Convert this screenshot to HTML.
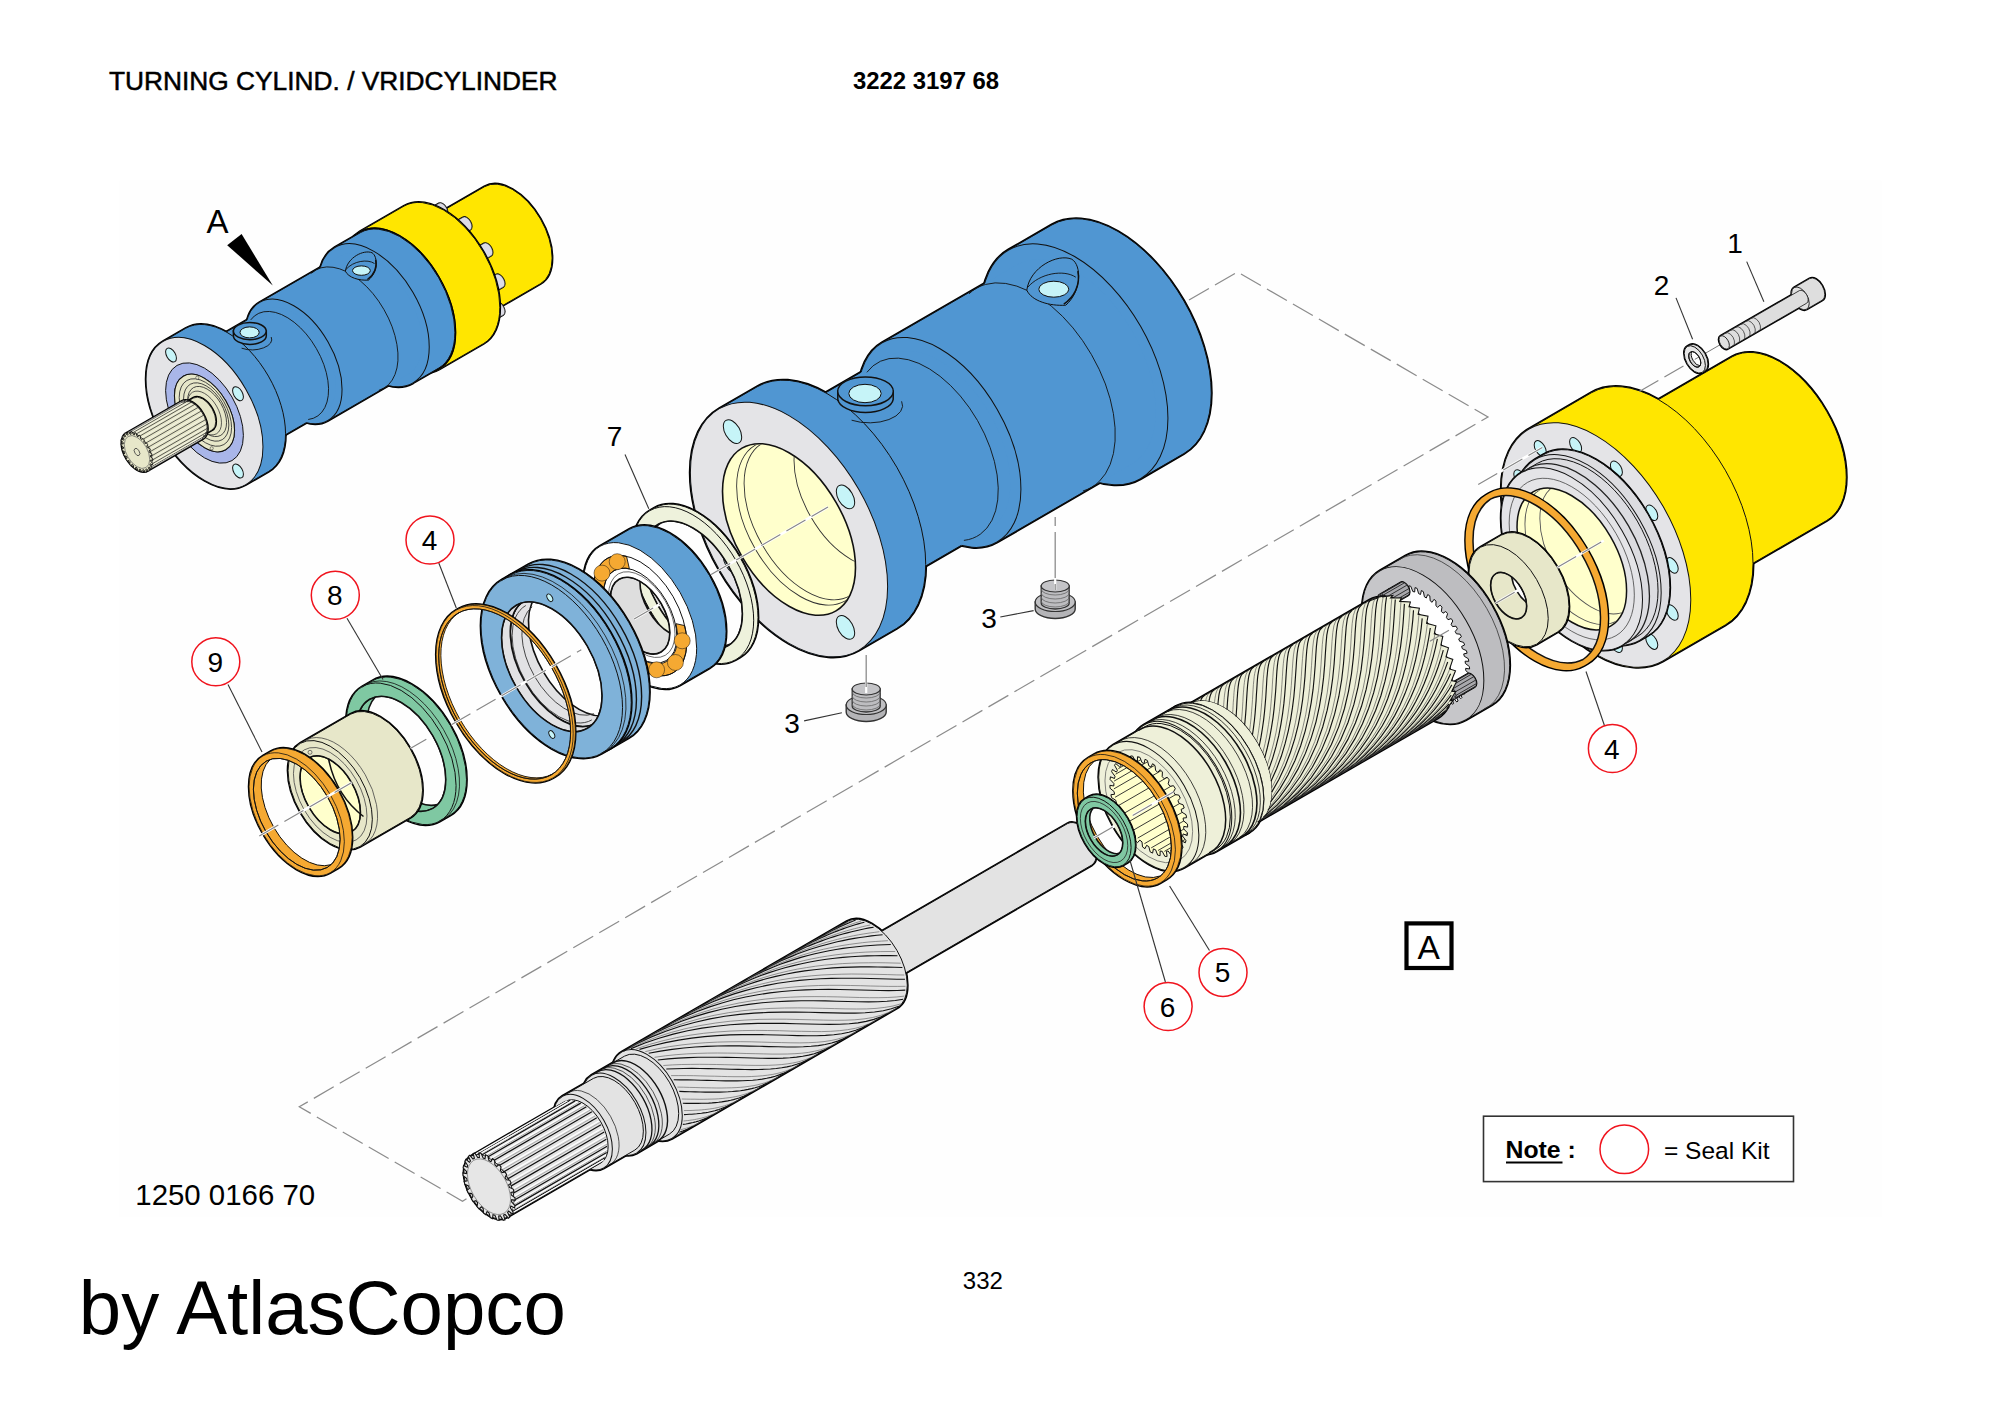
<!DOCTYPE html>
<html><head><meta charset="utf-8"><title>Turning cylinder</title>
<style>
html,body{margin:0;padding:0;background:#fff;}
body{width:2000px;height:1414px;overflow:hidden;position:relative;font-family:"Liberation Sans",sans-serif;}
svg{position:absolute;left:0;top:0;}
text{font-family:"Liberation Sans",sans-serif;fill:#000;}
</style></head><body>
<svg width="2000" height="1414" viewBox="0 0 2000 1414">
<defs><clipPath id="cl_sp"><ellipse cx="192.4" cy="420" rx="23" ry="13.3" transform="rotate(60 192.4 420)" fill="#000" stroke="none" stroke-width="0" /></clipPath></defs>
<rect x="0" y="0" width="2000" height="1414" fill="#fff"/>
<rect x="119.5" y="180.5" width="1762" height="1036.5" fill="#fefefe"/>
<path d="M1189 300L1237.6 272L1488 417L299.3 1106.8L462.5 1201.2L468.5 1197.5" fill="none" stroke="#8c8c8c" stroke-width="1.25" stroke-dasharray="23 7"/>
<path d="M471.7 323.4L540.5 283.7A56 32.3 60 0 0 540.5 219A56 32.3 60 0 0 484.5 186.7L415.7 226.4A56 32.3 60 0 0 415.7 291.1A56 32.3 60 0 0 471.7 323.4Z" fill="none" stroke="#000" stroke-width="2.6" stroke-linejoin="round"/>
<path d="M471.7 323.4L540.5 283.7A56 32.3 60 0 0 540.5 219A56 32.3 60 0 0 484.5 186.7L415.7 226.4A56 32.3 60 0 0 415.7 291.1A56 32.3 60 0 0 471.7 323.4Z" fill="#ffe600" stroke="none" stroke-width="0" />
<path d="M471.7 323.4L540.5 283.7M415.7 226.4L484.5 186.7M540.5 283.7A56 32.3 60 0 0 540.5 219A56 32.3 60 0 0 484.5 186.7" fill="none" stroke="#111" stroke-width="1.0" />
<ellipse cx="443.7" cy="274.9" rx="56" ry="32.3" transform="rotate(60 443.7 274.9)" fill="#ffe600" stroke="#111" stroke-width="1.0" />
<path d="M480.3 338.3L491.1 332.1A7.1 4.1 60 0 0 491.1 323.8A7.1 4.1 60 0 0 484 319.7L473.2 326A7.1 4.1 60 0 0 473.2 334.2A7.1 4.1 60 0 0 480.3 338.3Z" fill="none" stroke="#000" stroke-width="1.8" stroke-linejoin="round"/>
<path d="M480.3 338.3L491.1 332.1A7.1 4.1 60 0 0 491.1 323.8A7.1 4.1 60 0 0 484 319.7L473.2 326A7.1 4.1 60 0 0 473.2 334.2A7.1 4.1 60 0 0 480.3 338.3Z" fill="#dcdce6" stroke="none" stroke-width="0" />
<path d="M480.3 338.3L491.1 332.1M473.2 326L484 319.7M491.1 332.1A7.1 4.1 60 0 0 491.1 323.8A7.1 4.1 60 0 0 484 319.7" fill="none" stroke="#555" stroke-width="0.5" />
<ellipse cx="476.8" cy="332.1" rx="7.1" ry="4.1" transform="rotate(60 476.8 332.1)" fill="#dcdce6" stroke="#555" stroke-width="0.5" />
<path d="M492.4 321.1L503.2 314.9A7.1 4.1 60 0 0 503.2 306.6A7.1 4.1 60 0 0 496.1 302.5L485.3 308.8A7.1 4.1 60 0 0 485.3 317A7.1 4.1 60 0 0 492.4 321.1Z" fill="none" stroke="#000" stroke-width="1.8" stroke-linejoin="round"/>
<path d="M492.4 321.1L503.2 314.9A7.1 4.1 60 0 0 503.2 306.6A7.1 4.1 60 0 0 496.1 302.5L485.3 308.8A7.1 4.1 60 0 0 485.3 317A7.1 4.1 60 0 0 492.4 321.1Z" fill="#dcdce6" stroke="none" stroke-width="0" />
<path d="M492.4 321.1L503.2 314.9M485.3 308.8L496.1 302.5M503.2 314.9A7.1 4.1 60 0 0 503.2 306.6A7.1 4.1 60 0 0 496.1 302.5" fill="none" stroke="#555" stroke-width="0.5" />
<ellipse cx="488.9" cy="314.9" rx="7.1" ry="4.1" transform="rotate(60 488.9 314.9)" fill="#dcdce6" stroke="#555" stroke-width="0.5" />
<path d="M492.4 293.1L503.2 286.9A7.1 4.1 60 0 0 503.2 278.7A7.1 4.1 60 0 0 496.1 274.6L485.3 280.8A7.1 4.1 60 0 0 485.3 289A7.1 4.1 60 0 0 492.4 293.1Z" fill="none" stroke="#000" stroke-width="1.8" stroke-linejoin="round"/>
<path d="M492.4 293.1L503.2 286.9A7.1 4.1 60 0 0 503.2 278.7A7.1 4.1 60 0 0 496.1 274.6L485.3 280.8A7.1 4.1 60 0 0 485.3 289A7.1 4.1 60 0 0 492.4 293.1Z" fill="#dcdce6" stroke="none" stroke-width="0" />
<path d="M492.4 293.1L503.2 286.9M485.3 280.8L496.1 274.6M503.2 286.9A7.1 4.1 60 0 0 503.2 278.7A7.1 4.1 60 0 0 496.1 274.6" fill="none" stroke="#555" stroke-width="0.5" />
<ellipse cx="488.9" cy="287" rx="7.1" ry="4.1" transform="rotate(60 488.9 287)" fill="#dcdce6" stroke="#555" stroke-width="0.5" />
<path d="M480.3 262L491.1 255.7A7.1 4.1 60 0 0 491.1 247.5A7.1 4.1 60 0 0 484 243.4L473.2 249.6A7.1 4.1 60 0 0 473.2 257.9A7.1 4.1 60 0 0 480.3 262Z" fill="none" stroke="#000" stroke-width="1.8" stroke-linejoin="round"/>
<path d="M480.3 262L491.1 255.7A7.1 4.1 60 0 0 491.1 247.5A7.1 4.1 60 0 0 484 243.4L473.2 249.6A7.1 4.1 60 0 0 473.2 257.9A7.1 4.1 60 0 0 480.3 262Z" fill="#dcdce6" stroke="none" stroke-width="0" />
<path d="M480.3 262L491.1 255.7M473.2 249.6L484 243.4M491.1 255.7A7.1 4.1 60 0 0 491.1 247.5A7.1 4.1 60 0 0 484 243.4" fill="none" stroke="#555" stroke-width="0.5" />
<ellipse cx="476.8" cy="255.8" rx="7.1" ry="4.1" transform="rotate(60 476.8 255.8)" fill="#dcdce6" stroke="#555" stroke-width="0.5" />
<path d="M459.4 235.9L470.2 229.7A7.1 4.1 60 0 0 470.2 221.5A7.1 4.1 60 0 0 463 217.4L452.3 223.6A7.1 4.1 60 0 0 452.3 231.8A7.1 4.1 60 0 0 459.4 235.9Z" fill="none" stroke="#000" stroke-width="1.8" stroke-linejoin="round"/>
<path d="M459.4 235.9L470.2 229.7A7.1 4.1 60 0 0 470.2 221.5A7.1 4.1 60 0 0 463 217.4L452.3 223.6A7.1 4.1 60 0 0 452.3 231.8A7.1 4.1 60 0 0 459.4 235.9Z" fill="#dcdce6" stroke="none" stroke-width="0" />
<path d="M459.4 235.9L470.2 229.7M452.3 223.6L463 217.4M470.2 229.7A7.1 4.1 60 0 0 470.2 221.5A7.1 4.1 60 0 0 463 217.4" fill="none" stroke="#555" stroke-width="0.5" />
<ellipse cx="455.8" cy="229.7" rx="7.1" ry="4.1" transform="rotate(60 455.8 229.7)" fill="#dcdce6" stroke="#555" stroke-width="0.5" />
<path d="M435.2 221.9L446 215.7A7.1 4.1 60 0 0 446 207.5A7.1 4.1 60 0 0 438.9 203.4L428.1 209.6A7.1 4.1 60 0 0 428.1 217.8A7.1 4.1 60 0 0 435.2 221.9Z" fill="none" stroke="#000" stroke-width="1.8" stroke-linejoin="round"/>
<path d="M435.2 221.9L446 215.7A7.1 4.1 60 0 0 446 207.5A7.1 4.1 60 0 0 438.9 203.4L428.1 209.6A7.1 4.1 60 0 0 428.1 217.8A7.1 4.1 60 0 0 435.2 221.9Z" fill="#dcdce6" stroke="none" stroke-width="0" />
<path d="M435.2 221.9L446 215.7M428.1 209.6L438.9 203.4M446 215.7A7.1 4.1 60 0 0 446 207.5A7.1 4.1 60 0 0 438.9 203.4" fill="none" stroke="#555" stroke-width="0.5" />
<ellipse cx="431.6" cy="215.8" rx="7.1" ry="4.1" transform="rotate(60 431.6 215.8)" fill="#dcdce6" stroke="#555" stroke-width="0.5" />
<path d="M414.2 223.8L425 217.6A7.1 4.1 60 0 0 425 209.4A7.1 4.1 60 0 0 417.9 205.3L407.1 211.5A7.1 4.1 60 0 0 407.1 219.7A7.1 4.1 60 0 0 414.2 223.8Z" fill="none" stroke="#000" stroke-width="1.8" stroke-linejoin="round"/>
<path d="M414.2 223.8L425 217.6A7.1 4.1 60 0 0 425 209.4A7.1 4.1 60 0 0 417.9 205.3L407.1 211.5A7.1 4.1 60 0 0 407.1 219.7A7.1 4.1 60 0 0 414.2 223.8Z" fill="#dcdce6" stroke="none" stroke-width="0" />
<path d="M414.2 223.8L425 217.6M407.1 211.5L417.9 205.3M425 217.6A7.1 4.1 60 0 0 425 209.4A7.1 4.1 60 0 0 417.9 205.3" fill="none" stroke="#555" stroke-width="0.5" />
<ellipse cx="410.7" cy="217.6" rx="7.1" ry="4.1" transform="rotate(60 410.7 217.6)" fill="#dcdce6" stroke="#555" stroke-width="0.5" />
<path d="M402.1 241L412.9 234.8A7.1 4.1 60 0 0 412.9 226.6A7.1 4.1 60 0 0 405.8 222.5L395 228.7A7.1 4.1 60 0 0 395 236.9A7.1 4.1 60 0 0 402.1 241Z" fill="none" stroke="#000" stroke-width="1.8" stroke-linejoin="round"/>
<path d="M402.1 241L412.9 234.8A7.1 4.1 60 0 0 412.9 226.6A7.1 4.1 60 0 0 405.8 222.5L395 228.7A7.1 4.1 60 0 0 395 236.9A7.1 4.1 60 0 0 402.1 241Z" fill="#dcdce6" stroke="none" stroke-width="0" />
<path d="M402.1 241L412.9 234.8M395 228.7L405.8 222.5M412.9 234.8A7.1 4.1 60 0 0 412.9 226.6A7.1 4.1 60 0 0 405.8 222.5" fill="none" stroke="#555" stroke-width="0.5" />
<ellipse cx="398.6" cy="234.9" rx="7.1" ry="4.1" transform="rotate(60 398.6 234.9)" fill="#dcdce6" stroke="#555" stroke-width="0.5" />
<path d="M402.1 268.9L412.9 262.7A7.1 4.1 60 0 0 412.9 254.5A7.1 4.1 60 0 0 405.8 250.4L395 256.6A7.1 4.1 60 0 0 395 264.8A7.1 4.1 60 0 0 402.1 268.9Z" fill="none" stroke="#000" stroke-width="1.8" stroke-linejoin="round"/>
<path d="M402.1 268.9L412.9 262.7A7.1 4.1 60 0 0 412.9 254.5A7.1 4.1 60 0 0 405.8 250.4L395 256.6A7.1 4.1 60 0 0 395 264.8A7.1 4.1 60 0 0 402.1 268.9Z" fill="#dcdce6" stroke="none" stroke-width="0" />
<path d="M402.1 268.9L412.9 262.7M395 256.6L405.8 250.4M412.9 262.7A7.1 4.1 60 0 0 412.9 254.5A7.1 4.1 60 0 0 405.8 250.4" fill="none" stroke="#555" stroke-width="0.5" />
<ellipse cx="398.6" cy="262.8" rx="7.1" ry="4.1" transform="rotate(60 398.6 262.8)" fill="#dcdce6" stroke="#555" stroke-width="0.5" />
<path d="M414.2 300.1L425 293.9A7.1 4.1 60 0 0 425 285.7A7.1 4.1 60 0 0 417.9 281.6L407.1 287.8A7.1 4.1 60 0 0 407.1 296A7.1 4.1 60 0 0 414.2 300.1Z" fill="none" stroke="#000" stroke-width="1.8" stroke-linejoin="round"/>
<path d="M414.2 300.1L425 293.9A7.1 4.1 60 0 0 425 285.7A7.1 4.1 60 0 0 417.9 281.6L407.1 287.8A7.1 4.1 60 0 0 407.1 296A7.1 4.1 60 0 0 414.2 300.1Z" fill="#dcdce6" stroke="none" stroke-width="0" />
<path d="M414.2 300.1L425 293.9M407.1 287.8L417.9 281.6M425 293.9A7.1 4.1 60 0 0 425 285.7A7.1 4.1 60 0 0 417.9 281.6" fill="none" stroke="#555" stroke-width="0.5" />
<ellipse cx="410.7" cy="294" rx="7.1" ry="4.1" transform="rotate(60 410.7 294)" fill="#dcdce6" stroke="#555" stroke-width="0.5" />
<path d="M435.2 326.2L446 320A7.1 4.1 60 0 0 446 311.8A7.1 4.1 60 0 0 438.9 307.6L428.1 313.9A7.1 4.1 60 0 0 428.1 322.1A7.1 4.1 60 0 0 435.2 326.2Z" fill="none" stroke="#000" stroke-width="1.8" stroke-linejoin="round"/>
<path d="M435.2 326.2L446 320A7.1 4.1 60 0 0 446 311.8A7.1 4.1 60 0 0 438.9 307.6L428.1 313.9A7.1 4.1 60 0 0 428.1 322.1A7.1 4.1 60 0 0 435.2 326.2Z" fill="#dcdce6" stroke="none" stroke-width="0" />
<path d="M435.2 326.2L446 320M428.1 313.9L438.9 307.6M446 320A7.1 4.1 60 0 0 446 311.8A7.1 4.1 60 0 0 438.9 307.6" fill="none" stroke="#555" stroke-width="0.5" />
<ellipse cx="431.6" cy="320" rx="7.1" ry="4.1" transform="rotate(60 431.6 320)" fill="#dcdce6" stroke="#555" stroke-width="0.5" />
<path d="M459.4 340.2L470.2 333.9A7.1 4.1 60 0 0 470.2 325.7A7.1 4.1 60 0 0 463 321.6L452.3 327.8A7.1 4.1 60 0 0 452.3 336A7.1 4.1 60 0 0 459.4 340.2Z" fill="none" stroke="#000" stroke-width="1.8" stroke-linejoin="round"/>
<path d="M459.4 340.2L470.2 333.9A7.1 4.1 60 0 0 470.2 325.7A7.1 4.1 60 0 0 463 321.6L452.3 327.8A7.1 4.1 60 0 0 452.3 336A7.1 4.1 60 0 0 459.4 340.2Z" fill="#dcdce6" stroke="none" stroke-width="0" />
<path d="M459.4 340.2L470.2 333.9M452.3 327.8L463 321.6M470.2 333.9A7.1 4.1 60 0 0 470.2 325.7A7.1 4.1 60 0 0 463 321.6" fill="none" stroke="#555" stroke-width="0.5" />
<ellipse cx="455.8" cy="334" rx="7.1" ry="4.1" transform="rotate(60 455.8 334)" fill="#dcdce6" stroke="#555" stroke-width="0.5" />
<path d="M439.3 369.2L483.4 343.7A79.4 45.9 60 0 0 483.4 252A79.4 45.9 60 0 0 404 206.1L359.9 231.6A79.4 45.9 60 0 0 359.9 323.3A79.4 45.9 60 0 0 439.3 369.2Z" fill="none" stroke="#000" stroke-width="2.6" stroke-linejoin="round"/>
<path d="M439.3 369.2L483.4 343.7A79.4 45.9 60 0 0 483.4 252A79.4 45.9 60 0 0 404 206.1L359.9 231.6A79.4 45.9 60 0 0 359.9 323.3A79.4 45.9 60 0 0 439.3 369.2Z" fill="#ffe600" stroke="none" stroke-width="0" />
<path d="M439.3 369.2L483.4 343.7M359.9 231.6L404 206.1M483.4 343.7A79.4 45.9 60 0 0 483.4 252A79.4 45.9 60 0 0 404 206.1" fill="none" stroke="#111" stroke-width="1.0" />
<ellipse cx="399.6" cy="300.4" rx="79.4" ry="45.9" transform="rotate(60 399.6 300.4)" fill="#ffe600" stroke="#111" stroke-width="1.0" />
<path d="M245.8 484.6L268.4 471.6A82.7 47.7 60 0 0 268.4 376.1A82.7 47.7 60 0 0 185.7 328.3L163.2 341.4A82.7 47.7 60 0 0 163.2 436.9A82.7 47.7 60 0 0 245.8 484.6Z" fill="none" stroke="#000" stroke-width="2.6" stroke-linejoin="round"/>
<path d="M256.7 451.3L323.5 412.8A59.3 34.2 60 0 0 323.5 344.3A59.3 34.2 60 0 0 264.2 310.1L197.4 348.6A59.3 34.2 60 0 0 197.4 417.1A59.3 34.2 60 0 0 256.7 451.3Z" fill="none" stroke="#000" stroke-width="2.6" stroke-linejoin="round"/>
<path d="M327.9 420.5L408 374.2A68.2 39.4 60 0 0 408 295.5A68.2 39.4 60 0 0 339.8 256.2L259.7 302.4A68.2 39.4 60 0 0 259.7 381.1A68.2 39.4 60 0 0 327.9 420.5Z" fill="none" stroke="#000" stroke-width="2.6" stroke-linejoin="round"/>
<path d="M413 383L438.7 368.1A78.2 45.2 60 0 0 438.7 277.8A78.2 45.2 60 0 0 360.5 232.6L334.8 247.4A78.2 45.2 60 0 0 334.8 337.8A78.2 45.2 60 0 0 413 383Z" fill="none" stroke="#000" stroke-width="2.6" stroke-linejoin="round"/>
<path d="M413 383L438.7 368.1A78.2 45.2 60 0 0 438.7 277.8A78.2 45.2 60 0 0 360.5 232.6L334.8 247.4A78.2 45.2 60 0 0 334.8 337.8A78.2 45.2 60 0 0 413 383Z" fill="#5096d2" stroke="none" stroke-width="0" />
<path d="M413 383L438.7 368.1M334.8 247.4L360.5 232.6M438.7 368.1A78.2 45.2 60 0 0 438.7 277.8A78.2 45.2 60 0 0 360.5 232.6" fill="none" stroke="#111" stroke-width="1.0" />
<ellipse cx="373.9" cy="315.2" rx="78.2" ry="45.2" transform="rotate(60 373.9 315.2)" fill="#5096d2" stroke="#111" stroke-width="1.0" />
<path d="M327.9 420.5L408 374.2A68.2 39.4 60 0 0 408 295.5A68.2 39.4 60 0 0 339.8 256.2L259.7 302.4A68.2 39.4 60 0 0 259.7 381.1A68.2 39.4 60 0 0 327.9 420.5Z" fill="#5096d2" stroke="none" stroke-width="0" />
<path d="M327.9 420.5L388.8 385.3M259.7 302.4L320.6 267.2" fill="none" stroke="#111" stroke-width="1.0" />
<ellipse cx="293.8" cy="361.4" rx="68.2" ry="39.4" transform="rotate(60 293.8 361.4)" fill="#5096d2" stroke="#111" stroke-width="1.0" />
<path d="M256.7 451.3L323.5 412.8A59.3 34.2 60 0 0 323.5 344.3A59.3 34.2 60 0 0 264.2 310.1L197.4 348.6A59.3 34.2 60 0 0 197.4 417.1A59.3 34.2 60 0 0 256.7 451.3Z" fill="#5096d2" stroke="none" stroke-width="0" />
<path d="M256.7 451.3L306.6 422.5M197.4 348.6L247.4 319.8" fill="none" stroke="#111" stroke-width="1.0" />
<ellipse cx="227.1" cy="400" rx="59.3" ry="34.2" transform="rotate(60 227.1 400)" fill="#5096d2" stroke="#111" stroke-width="1.0" />
<path d="M245.8 484.6L268.4 471.6A82.7 47.7 60 0 0 268.4 376.1A82.7 47.7 60 0 0 185.7 328.3L163.2 341.4A82.7 47.7 60 0 0 163.2 436.9A82.7 47.7 60 0 0 245.8 484.6Z" fill="#5096d2" stroke="none" stroke-width="0" />
<path d="M245.8 484.6L268.4 471.6M163.2 341.4L185.7 328.3M268.4 471.6A82.7 47.7 60 0 0 268.4 376.1A82.7 47.7 60 0 0 185.7 328.3" fill="none" stroke="#111" stroke-width="1.0" />
<ellipse cx="204.5" cy="413" rx="82.7" ry="47.7" transform="rotate(60 204.5 413)" fill="#e4e4e7" stroke="#111" stroke-width="1.0" />
<path d="M308.2 419.5A59.3 34.2 60 0 0 327.9 380.7A59.3 34.2 60 0 0 294.2 322.3A59.3 34.2 60 0 0 250.7 319.9M378.8 390.3A68.2 39.4 60 0 0 396.9 344.4A68.2 39.4 60 0 0 360.1 280.7A68.2 39.4 60 0 0 311.3 273.4" fill="none" stroke="#111" stroke-width="0.9" />
<ellipse cx="238" cy="471" rx="7.7" ry="4.4" transform="rotate(60 238 471)" fill="#c6f4f8" stroke="#111" stroke-width="1"/>
<ellipse cx="238" cy="393.7" rx="7.7" ry="4.4" transform="rotate(60 238 393.7)" fill="#c6f4f8" stroke="#111" stroke-width="1"/>
<ellipse cx="171" cy="355" rx="7.7" ry="4.4" transform="rotate(60 171 355)" fill="#c6f4f8" stroke="#111" stroke-width="1"/>
<ellipse cx="171" cy="432.3" rx="7.7" ry="4.4" transform="rotate(60 171 432.3)" fill="#c6f4f8" stroke="#111" stroke-width="1"/>
<path d="M233.4 331.1L233.4 335.8A16.4 8.6 0 0 0 266.3 335.8L266.3 331.1Z" fill="#5096d2" stroke="#111" stroke-width="1.5" />
<path d="M241.6 348.2A19.7 10.3 0 0 0 271.2 337" fill="none" stroke="#111" stroke-width="0.9" />
<ellipse cx="249.8" cy="331.1" rx="16.4" ry="8.6" fill="#5096d2" stroke="#111" stroke-width="1.5"/>
<ellipse cx="249.6" cy="332.4" rx="9.6" ry="5.5" fill="#c6f4f8" stroke="#111" stroke-width="1"/>
<path d="M345.4 271.2C347.2 257.5 363.8 249.2 372.1 252.8C378 256.4 378 271.8 368.5 280.1C359.1 280.7 348.4 277.7 345.4 271.2Z" fill="#5096d2" stroke="#111" stroke-width="1.0" />
<path d="M346 269.4C353.1 261.1 367.4 258.7 374.5 263.5" fill="none" stroke="#111" stroke-width="0.9" />
<path d="M375.7 259.9C377.4 268.2 373.3 275.3 367.4 279.5" fill="none" stroke="#111" stroke-width="1.5" />
<ellipse cx="361.4" cy="270.6" rx="8.9" ry="4.7" fill="#c6f4f8" stroke="#111" stroke-width="1"/>
<path d="M232 460.6A55 31.8 60 0 0 232 397.1A55 31.8 60 0 0 177 365.4A55 31.8 60 0 0 177 428.9A55 31.8 60 0 0 232 460.6ZM225.8 449.8A42.5 24.5 60 0 0 225.8 400.7A42.5 24.5 60 0 0 183.2 376.2A42.5 24.5 60 0 0 183.2 425.3A42.5 24.5 60 0 0 225.8 449.8Z" fill="#a9b6e9" stroke="#111" stroke-width="1.0" fill-rule="evenodd"/>
<ellipse cx="204.5" cy="413" rx="42.5" ry="24.5" transform="rotate(60 204.5 413)" fill="#e7e7c9" stroke="#111" stroke-width="1.0" />
<ellipse cx="205.4" cy="412.5" rx="37" ry="21.4" transform="rotate(60 205.4 412.5)" fill="none" stroke="#333" stroke-width="0.8" />
<ellipse cx="206.2" cy="412" rx="32" ry="18.5" transform="rotate(60 206.2 412)" fill="none" stroke="#333" stroke-width="0.8" />
<ellipse cx="207.1" cy="411.5" rx="27.5" ry="15.9" transform="rotate(60 207.1 411.5)" fill="#e7e7c9" stroke="#333" stroke-width="0.8" />
<ellipse cx="204.5" cy="413" rx="24" ry="13.9" transform="rotate(60 204.5 413)" fill="none" stroke="#333" stroke-width="0.7" />
<circle cx="197.3" cy="377.7" r="1.6" fill="#e7e7c9" stroke="#444" stroke-width="0.6"/>
<circle cx="211.7" cy="448.3" r="1.6" fill="#e7e7c9" stroke="#444" stroke-width="0.6"/>
<path d="M198.2 438L212 430A18.5 10.7 60 0 0 212 408.7A18.5 10.7 60 0 0 193.5 398L179.7 406A18.5 10.7 60 0 0 179.7 427.3A18.5 10.7 60 0 0 198.2 438Z" fill="none" stroke="#000" stroke-width="2.6" stroke-linejoin="round"/>
<path d="M198.2 438L212 430A18.5 10.7 60 0 0 212 408.7A18.5 10.7 60 0 0 193.5 398L179.7 406A18.5 10.7 60 0 0 179.7 427.3A18.5 10.7 60 0 0 198.2 438Z" fill="#e7e7c9" stroke="none" stroke-width="0" />
<path d="M198.2 438L212 430M179.7 406L193.5 398M212 430A18.5 10.7 60 0 0 212 408.7A18.5 10.7 60 0 0 193.5 398" fill="none" stroke="#111" stroke-width="0.8" />
<ellipse cx="188.9" cy="422" rx="18.5" ry="10.7" transform="rotate(60 188.9 422)" fill="#e7e7c9" stroke="#111" stroke-width="0.8" />
<path d="M147.7 470.6L203.1 438.6A21.5 12.4 60 0 0 203.1 413.8A21.5 12.4 60 0 0 181.6 401.4L126.2 433.4A21.5 12.4 60 0 0 126.2 458.2A21.5 12.4 60 0 0 147.7 470.6Z" fill="none" stroke="#000" stroke-width="2.6" stroke-linejoin="round"/>
<path d="M147.7 470.6L203.1 438.6A21.5 12.4 60 0 0 203.1 413.8A21.5 12.4 60 0 0 181.6 401.4L126.2 433.4A21.5 12.4 60 0 0 126.2 458.2A21.5 12.4 60 0 0 147.7 470.6Z" fill="#e7e7c9" stroke="none" stroke-width="0" />
<path d="M147.7 470.6L203.1 438.6M126.2 433.4L181.6 401.4M203.1 438.6A21.5 12.4 60 0 0 203.1 413.8A21.5 12.4 60 0 0 181.6 401.4" fill="none" stroke="#111" stroke-width="0.8" />
<ellipse cx="137" cy="452" rx="21.5" ry="12.4" transform="rotate(60 137 452)" fill="#d6d6b4" stroke="#111" stroke-width="0.8" />
<path d="M149.1 469.6L204.5 437.6M150.8 467.2L206.3 435.2M151.9 464L207.3 432M152.1 460.2L207.6 428.2M151.6 455.9L207.1 423.9M150.4 451.5L205.8 419.5M148.4 447.1L203.8 415.1M145.9 443L201.3 411M142.9 439.3L198.3 407.3M139.6 436.2L195 404.2M136.2 434L191.6 402M132.8 432.7L188.2 400.7M129.6 432.4L185 400.4M126.8 433.1L182.2 401.1" fill="none" stroke="#333" stroke-width="0.8" />
<path d="M150 468.6L205.4 436.6M151.4 465.8L206.8 433.8M152.1 462.3L207.5 430.3M152 458.2L207.4 426.2M151.1 453.9L206.6 421.9M149.6 449.5L205 417.5M147.3 445.1L202.7 413.1M144.6 441.2L200 409.2M141.4 437.8L196.8 405.8M138 435.1L193.4 403.1M134.6 433.3L190 401.3M131.3 432.4L186.7 400.4M128.2 432.6L183.7 400.6" fill="none" stroke="#fff" stroke-width="0.8" opacity="0.6"/>
<path d="M146.7 468.9L148.7 471.2L149.6 470.5L148.3 467.6L148.9 466.9L151.1 468.6L151.6 467.5L149.9 464.9L150.3 463.8L152.5 464.9L152.7 463.5L150.7 461.3L150.7 460L152.8 460.3L152.7 458.7L150.5 457L150.3 455.6L152.1 455.2L151.6 453.5L149.4 452.4L148.9 450.9L150.3 449.8L149.6 448.1L147.5 447.8L146.7 446.4L147.7 444.6L146.6 443L144.8 443.5L143.8 442.2L144.2 439.9L143 438.5L141.6 439.7L140.5 438.7L140.3 436L139 435L138.1 436.8L137 436.1L136.2 433.2L134.9 432.6L134.5 434.9L133.4 434.6L132.1 431.7L130.9 431.5L131.1 434.2L130.1 434.2L128.4 431.6L127.3 431.8L128.1 434.7L127.2 435.1L125.2 432.8L124.3 433.5L125.6 436.4L125 437.1L122.8 435.4L122.3 436.5L124 439.1L123.6 440.2L121.4 439.1L121.2 440.5L123.2 442.7L123.2 444L121.1 443.7L121.2 445.3L123.4 447L123.6 448.4L121.8 448.8L122.3 450.5L124.5 451.6L125 453.1L123.6 454.2L124.3 455.9L126.4 456.2L127.2 457.6L126.2 459.4L127.3 461L129.1 460.5L130.1 461.8L129.7 464.1L130.9 465.5L132.3 464.3L133.4 465.3L133.6 468L134.9 469L135.8 467.2L137 467.9L137.7 470.8L139 471.4L139.4 469.1L140.5 469.4L141.8 472.3L143 472.5L142.8 469.8L143.8 469.8L145.5 472.4L146.6 472.2L145.8 469.3Z" fill="#e7e7c9" stroke="#111" stroke-width="0.9" />
<ellipse cx="137" cy="452" rx="18" ry="10.4" transform="rotate(60 137 452)" fill="#e7e7c9" stroke="#555" stroke-width="0.6" />
<ellipse cx="137" cy="452" rx="4" ry="2.3" transform="rotate(60 137 452)" fill="#e7e7c9" stroke="#333" stroke-width="0.7" />
<path d="M202.3 439.1L204.1 435.1L204.9 436.9L205.9 432.6L206.5 433.6L207 429.3L207.1 429.3L207 425.2L206.7 424.4L206.1 420.6L205.2 419.2L204.4 416L202.7 414L201.8 411.6L199.5 409.3L198.7 407.8L195.7 405.4L195.2 404.7L191.7 402.5L191.7 402.7L187.7 400.9L188.2 401.9L184 400.7L185.2 402.3L180.8 401.9" fill="none" stroke="#222" stroke-width="0.8" />
<path d="M227.2 245.2L241.6 234L272.8 285.5Z" fill="#000"/>
<text x="206.6" y="232.8" font-size="33">A</text>
<path d="M858.8 650.3L896.8 628.3A139.5 80.5 60 0 0 896.8 467.2A139.5 80.5 60 0 0 757.3 386.7L719.2 408.7A139.5 80.5 60 0 0 719.2 569.8A139.5 80.5 60 0 0 858.8 650.3Z" fill="none" stroke="#000" stroke-width="3.0" stroke-linejoin="round"/>
<path d="M877.1 594.1L989.6 529A100 57.7 60 0 0 989.6 413.5A100 57.7 60 0 0 889.6 355.8L777.1 420.9A100 57.7 60 0 0 777.1 536.3A100 57.7 60 0 0 877.1 594.1Z" fill="none" stroke="#000" stroke-width="3.0" stroke-linejoin="round"/>
<path d="M997.1 542L1132.1 463.8A115 66.4 60 0 0 1132.1 331.1A115 66.4 60 0 0 1017.1 264.7L882.1 342.8A115 66.4 60 0 0 882.1 475.6A115 66.4 60 0 0 997.1 542Z" fill="none" stroke="#000" stroke-width="3.0" stroke-linejoin="round"/>
<path d="M1140.6 478.6L1183.9 453.5A132 76.2 60 0 0 1183.9 301.1A132 76.2 60 0 0 1051.9 224.9L1008.6 249.9A132 76.2 60 0 0 1008.6 402.4A132 76.2 60 0 0 1140.6 478.6Z" fill="none" stroke="#000" stroke-width="3.0" stroke-linejoin="round"/>
<path d="M1140.6 478.6L1183.9 453.5A132 76.2 60 0 0 1183.9 301.1A132 76.2 60 0 0 1051.9 224.9L1008.6 249.9A132 76.2 60 0 0 1008.6 402.4A132 76.2 60 0 0 1140.6 478.6Z" fill="#5096d2" stroke="none" stroke-width="0" />
<path d="M1140.6 478.6L1183.9 453.5M1008.6 249.9L1051.9 224.9M1183.9 453.5A132 76.2 60 0 0 1183.9 301.1A132 76.2 60 0 0 1051.9 224.9" fill="none" stroke="#111" stroke-width="1.0" />
<ellipse cx="1074.6" cy="364.3" rx="132" ry="76.2" transform="rotate(60 1074.6 364.3)" fill="#5096d2" stroke="#111" stroke-width="1.0" />
<path d="M997.1 542L1132.1 463.8A115 66.4 60 0 0 1132.1 331.1A115 66.4 60 0 0 1017.1 264.7L882.1 342.8A115 66.4 60 0 0 882.1 475.6A115 66.4 60 0 0 997.1 542Z" fill="#5096d2" stroke="none" stroke-width="0" />
<path d="M997.1 542L1099.8 482.6M882.1 342.8L984.8 283.4" fill="none" stroke="#111" stroke-width="1.0" />
<ellipse cx="939.6" cy="442.4" rx="115" ry="66.4" transform="rotate(60 939.6 442.4)" fill="#5096d2" stroke="#111" stroke-width="1.0" />
<path d="M877.1 594.1L989.6 529A100 57.7 60 0 0 989.6 413.5A100 57.7 60 0 0 889.6 355.8L777.1 420.9A100 57.7 60 0 0 777.1 536.3A100 57.7 60 0 0 877.1 594.1Z" fill="#5096d2" stroke="none" stroke-width="0" />
<path d="M877.1 594.1L961.2 545.4M777.1 420.9L861.2 372.2" fill="none" stroke="#111" stroke-width="1.0" />
<ellipse cx="827.1" cy="507.5" rx="100" ry="57.7" transform="rotate(60 827.1 507.5)" fill="#5096d2" stroke="#111" stroke-width="1.0" />
<path d="M858.8 650.3L896.8 628.3A139.5 80.5 60 0 0 896.8 467.2A139.5 80.5 60 0 0 757.3 386.7L719.2 408.7A139.5 80.5 60 0 0 719.2 569.8A139.5 80.5 60 0 0 858.8 650.3Z" fill="#5096d2" stroke="none" stroke-width="0" />
<path d="M858.8 650.3L896.8 628.3M719.2 408.7L757.3 386.7M896.8 628.3A139.5 80.5 60 0 0 896.8 467.2A139.5 80.5 60 0 0 757.3 386.7" fill="none" stroke="#111" stroke-width="1.0" />
<ellipse cx="789" cy="529.5" rx="139.5" ry="80.5" transform="rotate(60 789 529.5)" fill="#e4e4e7" stroke="#111" stroke-width="1.0" />
<path d="M963.9 540.4A100 57.7 60 0 0 997.1 474.9A100 57.7 60 0 0 940.2 376.4A100 57.7 60 0 0 866.9 372.3M1082.9 491A115 66.4 60 0 0 1113.4 413.6A115 66.4 60 0 0 1051.3 306.1A115 66.4 60 0 0 969 293.8" fill="none" stroke="#111" stroke-width="0.9" />
<ellipse cx="845.5" cy="627.4" rx="13" ry="7.5" transform="rotate(60 845.5 627.4)" fill="#c6f4f8" stroke="#111" stroke-width="1"/>
<ellipse cx="845.5" cy="496.9" rx="13" ry="7.5" transform="rotate(60 845.5 496.9)" fill="#c6f4f8" stroke="#111" stroke-width="1"/>
<ellipse cx="732.5" cy="431.6" rx="13" ry="7.5" transform="rotate(60 732.5 431.6)" fill="#c6f4f8" stroke="#111" stroke-width="1"/>
<ellipse cx="732.5" cy="562.1" rx="13" ry="7.5" transform="rotate(60 732.5 562.1)" fill="#c6f4f8" stroke="#111" stroke-width="1"/>
<path d="M837.8 391.3L837.8 399.3A27.8 14.4 0 0 0 893.2 399.3L893.2 391.3Z" fill="#5096d2" stroke="#111" stroke-width="1.5" />
<path d="M851.6 420.2A33.3 17.3 0 0 0 901.6 401.3" fill="none" stroke="#111" stroke-width="0.9" />
<ellipse cx="865.5" cy="391.3" rx="27.8" ry="14.4" fill="#5096d2" stroke="#111" stroke-width="1.5"/>
<ellipse cx="865" cy="393.5" rx="16.2" ry="9.2" fill="#c6f4f8" stroke="#111" stroke-width="1"/>
<path d="M1026.8 290.2C1029.8 267.2 1057.8 253.2 1071.8 259.2C1081.8 265.2 1081.8 291.2 1065.8 305.2C1049.8 306.2 1031.8 301.2 1026.8 290.2Z" fill="#5096d2" stroke="#111" stroke-width="1.0" />
<path d="M1027.8 287.2C1039.8 273.2 1063.8 269.2 1075.8 277.2" fill="none" stroke="#111" stroke-width="0.9" />
<path d="M1077.8 271.2C1080.8 285.2 1073.8 297.2 1063.8 304.2" fill="none" stroke="#111" stroke-width="1.5" />
<ellipse cx="1053.8" cy="289.2" rx="15" ry="8" fill="#c6f4f8" stroke="#111" stroke-width="1"/>
<ellipse cx="789" cy="529.5" rx="94" ry="54.3" transform="rotate(60 789 529.5)" fill="#ffffcc" stroke="#111" stroke-width="1.6" />
<clipPath id="cl_bore"><ellipse cx="789" cy="529.5" rx="93.2" ry="53.8" transform="rotate(60 789 529.5)" fill="#000" stroke="none" stroke-width="0" /></clipPath>
<g clip-path="url(#cl_bore)"><ellipse cx="800.3" cy="523" rx="90" ry="52" transform="rotate(60 800.3 523)" fill="none" stroke="#333" stroke-width="0.9" /><ellipse cx="806.3" cy="519.5" rx="88" ry="50.8" transform="rotate(60 806.3 519.5)" fill="none" stroke="#333" stroke-width="0.9" /><ellipse cx="851.3" cy="493.4" rx="81" ry="46.8" transform="rotate(60 851.3 493.4)" fill="none" stroke="#333" stroke-width="0.9" /></g>
<path d="M735.9 659.6L740.2 657.1A86 49.7 60 0 0 740.2 557.8A86 49.7 60 0 0 654.2 508.1L649.9 510.6A86 49.7 60 0 0 649.9 609.9A86 49.7 60 0 0 735.9 659.6Z" fill="none" stroke="#000" stroke-width="2.8" stroke-linejoin="round"/>
<path d="M735.9 659.6L740.2 657.1A86 49.7 60 0 0 740.2 557.8A86 49.7 60 0 0 654.2 508.1L649.9 510.6A86 49.7 60 0 0 649.9 609.9A86 49.7 60 0 0 735.9 659.6ZM730 644.3A70 40.4 60 0 0 727.9 564.9A70 40.4 60 0 0 660.2 523.3A70 40.4 60 0 0 662.2 602.8A70 40.4 60 0 0 730 644.3Z" fill="#eef2dc" stroke="none" stroke-width="0" fill-rule="evenodd"/>
<path d="M735.9 659.6L740.2 657.1M649.9 510.6L654.2 508.1M740.2 657.1A86 49.7 60 0 0 740.2 557.8A86 49.7 60 0 0 654.2 508.1" fill="none" stroke="#111" stroke-width="1.0" />
<path d="M727.9 645.7A70 40.4 60 0 0 727.9 564.9A70 40.4 60 0 0 657.9 524.5A70 40.4 60 0 0 657.9 605.3A70 40.4 60 0 0 727.9 645.7ZM730 644.3A70 40.4 60 0 0 727.9 564.9A70 40.4 60 0 0 660.2 523.3A70 40.4 60 0 0 662.2 602.8A70 40.4 60 0 0 730 644.3Z" fill="#dedede" stroke="none" stroke-width="0" fill-rule="evenodd"/>
<path d="M735.9 659.6A86 49.7 60 0 0 735.9 560.3A86 49.7 60 0 0 649.9 510.6A86 49.7 60 0 0 649.9 609.9A86 49.7 60 0 0 735.9 659.6ZM727.9 645.7A70 40.4 60 0 0 727.9 564.9A70 40.4 60 0 0 657.9 524.5A70 40.4 60 0 0 657.9 605.3A70 40.4 60 0 0 727.9 645.7Z" fill="#eef2dc" stroke="#111" stroke-width="1.0" fill-rule="evenodd"/>
<path d="M727.9 645.7A70 40.4 60 0 0 727.9 564.9A70 40.4 60 0 0 657.9 524.5A70 40.4 60 0 0 657.9 605.3A70 40.4 60 0 0 727.9 645.7Z" fill="none" stroke="#111" stroke-width="1.6" />
<path d="M660.1 523.3A70 40.4 60 0 0 662.2 602.8A70 40.4 60 0 0 730 644.3" fill="none" stroke="#111" stroke-width="1.6" />
<path d="M680.1 684.9L709.5 667.9A80 46.2 60 0 0 709.5 575.5A80 46.2 60 0 0 629.5 529.3L600.1 546.3A80 46.2 60 0 0 600.1 638.7A80 46.2 60 0 0 680.1 684.9Z" fill="none" stroke="#000" stroke-width="2.9" stroke-linejoin="round"/>
<path d="M680.1 684.9L709.5 667.9A80 46.2 60 0 0 709.5 575.5A80 46.2 60 0 0 629.5 529.3L600.1 546.3A80 46.2 60 0 0 600.1 638.7A80 46.2 60 0 0 680.1 684.9ZM669.8 633.1A42 24.2 60 0 0 661.1 603.5A42 24.2 60 0 0 639.9 581.2A42 24.2 60 0 0 648.5 610.7A42 24.2 60 0 0 669.8 633Z" fill="#5f9fd3" stroke="none" stroke-width="0" fill-rule="evenodd"/>
<path d="M680.1 684.9L709.5 667.9M600.1 546.3L629.5 529.3M709.5 667.9A80 46.2 60 0 0 709.5 575.5A80 46.2 60 0 0 629.5 529.3" fill="none" stroke="#111" stroke-width="1.0" />
<path d="M661.1 652A42 24.2 60 0 0 661.1 603.5A42 24.2 60 0 0 619.1 579.3A42 24.2 60 0 0 619.1 627.8A42 24.2 60 0 0 661.1 652ZM669.8 633.1A42 24.2 60 0 0 661.1 603.5A42 24.2 60 0 0 639.9 581.2A42 24.2 60 0 0 648.5 610.7A42 24.2 60 0 0 669.8 633Z" fill="#dedede" stroke="none" stroke-width="0" fill-rule="evenodd"/>
<path d="M680.1 684.9A80 46.2 60 0 0 680.1 592.5A80 46.2 60 0 0 600.1 546.3A80 46.2 60 0 0 600.1 638.7A80 46.2 60 0 0 680.1 684.9ZM661.1 652A42 24.2 60 0 0 661.1 603.5A42 24.2 60 0 0 619.1 579.3A42 24.2 60 0 0 619.1 627.8A42 24.2 60 0 0 661.1 652Z" fill="#ffffff" stroke="#111" stroke-width="1.0" fill-rule="evenodd"/>
<path d="M661.1 652A42 24.2 60 0 0 661.1 603.5A42 24.2 60 0 0 619.1 579.3A42 24.2 60 0 0 619.1 627.8A42 24.2 60 0 0 661.1 652Z" fill="none" stroke="#111" stroke-width="1.6" />
<path d="M639.9 581.2A42 24.2 60 0 0 648.5 610.7A42 24.2 60 0 0 669.8 633" fill="none" stroke="#111" stroke-width="1.6" />
<path d="M626.5 556.2A66 38.1 60 0 0 596.3 571.9A66 38.1 60 0 0 601 622.4L609.3 621A52 30 60 0 1 605.6 581.2A52 30 60 0 1 629.4 568.8Z" fill="#f5a932" stroke="#111" stroke-width="0.9" />
<path d="M645.8 672.4A66 38.1 60 0 0 679.3 667.6A66 38.1 60 0 0 684.7 625.6L676 623.7A53 30.6 60 0 1 671.5 657.3A53 30.6 60 0 1 644.7 661.2Z" fill="#f5a932" stroke="#111" stroke-width="0.9" />
<path d="M673.1 672.8A66 38.1 60 0 0 673.1 596.6A66 38.1 60 0 0 607.1 558.5A66 38.1 60 0 0 607.1 634.7A66 38.1 60 0 0 673.1 672.8Z" fill="none" stroke="#111" stroke-width="1.0" />
<path d="M666.1 660.7A52 30 60 0 0 666.1 600.6A52 30 60 0 0 614.1 570.6A52 30 60 0 0 614.1 630.6A52 30 60 0 0 666.1 660.7Z" fill="none" stroke="#111" stroke-width="1.0" />
<path d="M665.3 655.3A47 27.1 60 0 0 665.3 601.1A47 27.1 60 0 0 618.3 573.9A47 27.1 60 0 0 618.3 628.2A47 27.1 60 0 0 665.3 655.3Z" fill="none" stroke="#444" stroke-width="0.8" />
<circle cx="617.2" cy="561.7" r="8" fill="#f5a932" stroke="#111" stroke-width="0.5"/>
<circle cx="602" cy="573.1" r="8" fill="#f5a932" stroke="#111" stroke-width="0.5"/>
<circle cx="598.4" cy="597.4" r="8" fill="#f5a932" stroke="#111" stroke-width="0.5"/>
<circle cx="656.6" cy="669.8" r="8" fill="#f5a932" stroke="#111" stroke-width="0.5"/>
<circle cx="675.4" cy="662.5" r="8" fill="#f5a932" stroke="#111" stroke-width="0.5"/>
<circle cx="682.2" cy="640.8" r="8" fill="#f5a932" stroke="#111" stroke-width="0.5"/>
<path d="M610.5 748.3L628.7 737.8A100 57.7 60 0 0 628.7 622.3A100 57.7 60 0 0 528.7 564.6L510.5 575.1A100 57.7 60 0 0 510.5 690.6A100 57.7 60 0 0 610.5 748.3Z" fill="none" stroke="#000" stroke-width="2.9" stroke-linejoin="round"/>
<path d="M610.5 748.3L628.7 737.8A100 57.7 60 0 0 628.7 622.3A100 57.7 60 0 0 528.7 564.6L510.5 575.1A100 57.7 60 0 0 510.5 690.6A100 57.7 60 0 0 610.5 748.3ZM603.9 715.9A71 41 60 0 0 596 641.2A71 41 60 0 0 535.3 597A71 41 60 0 0 543.2 671.7A71 41 60 0 0 603.9 715.9Z" fill="#7fb2d9" stroke="none" stroke-width="0" fill-rule="evenodd"/>
<path d="M610.5 748.3L628.7 737.8M510.5 575.1L528.7 564.6M628.7 737.8A100 57.7 60 0 0 628.7 622.3A100 57.7 60 0 0 528.7 564.6" fill="none" stroke="#111" stroke-width="1.0" />
<path d="M596 723.2A71 41 60 0 0 596 641.2A71 41 60 0 0 525 600.2A71 41 60 0 0 525 682.2A71 41 60 0 0 596 723.2ZM603.9 715.9A71 41 60 0 0 596 641.2A71 41 60 0 0 535.3 597A71 41 60 0 0 543.2 671.7A71 41 60 0 0 603.9 715.9Z" fill="#e2e2e4" stroke="none" stroke-width="0" fill-rule="evenodd"/>
<path d="M610.5 748.3A100 57.7 60 0 0 610.5 632.8A100 57.7 60 0 0 510.5 575.1A100 57.7 60 0 0 510.5 690.6A100 57.7 60 0 0 610.5 748.3ZM596 723.2A71 41 60 0 0 596 641.2A71 41 60 0 0 525 600.2A71 41 60 0 0 525 682.2A71 41 60 0 0 596 723.2Z" fill="#7fb2d9" stroke="#111" stroke-width="1.0" fill-rule="evenodd"/>
<path d="M596 723.2A71 41 60 0 0 596 641.2A71 41 60 0 0 525 600.2A71 41 60 0 0 525 682.2A71 41 60 0 0 596 723.2Z" fill="none" stroke="#111" stroke-width="1.6" />
<path d="M535.3 597A71 41 60 0 0 543.2 671.7A71 41 60 0 0 603.9 715.9" fill="none" stroke="#111" stroke-width="1.6" />
<path d="M615.7 745.3A100 57.7 60 0 0 615.7 629.8A100 57.7 60 0 0 515.7 572.1M620.9 742.3A100 57.7 60 0 0 620.9 626.8A100 57.7 60 0 0 520.9 569.1" fill="none" stroke="#111" stroke-width="1.4" />
<path d="M601.8 753.3L610.5 748.3A100 57.7 60 0 0 610.5 632.8A100 57.7 60 0 0 510.5 575.1L501.8 580.1A100 57.7 60 0 0 501.8 695.6A100 57.7 60 0 0 601.8 753.3Z" fill="none" stroke="#000" stroke-width="2.9" stroke-linejoin="round"/>
<path d="M601.8 753.3L610.5 748.3A100 57.7 60 0 0 610.5 632.8A100 57.7 60 0 0 510.5 575.1L501.8 580.1A100 57.7 60 0 0 501.8 695.6A100 57.7 60 0 0 601.8 753.3ZM591.4 725.2A71 41 60 0 0 587.3 646.2A71 41 60 0 0 520.9 603.2A71 41 60 0 0 525 682.2A71 41 60 0 0 591.4 725.2Z" fill="#7fb2d9" stroke="none" stroke-width="0" fill-rule="evenodd"/>
<path d="M601.8 753.3L610.5 748.3M501.8 580.1L510.5 575.1M610.5 748.3A100 57.7 60 0 0 610.5 632.8A100 57.7 60 0 0 510.5 575.1" fill="none" stroke="#111" stroke-width="1.0" />
<path d="M587.3 728.2A71 41 60 0 0 587.3 646.2A71 41 60 0 0 516.3 605.2A71 41 60 0 0 516.3 687.2A71 41 60 0 0 587.3 728.2ZM591.4 725.2A71 41 60 0 0 587.3 646.2A71 41 60 0 0 520.9 603.2A71 41 60 0 0 525 682.2A71 41 60 0 0 591.4 725.2Z" fill="#e2e2e4" stroke="none" stroke-width="0" fill-rule="evenodd"/>
<path d="M601.8 753.3A100 57.7 60 0 0 601.8 637.8A100 57.7 60 0 0 501.8 580.1A100 57.7 60 0 0 501.8 695.6A100 57.7 60 0 0 601.8 753.3ZM587.3 728.2A71 41 60 0 0 587.3 646.2A71 41 60 0 0 516.3 605.2A71 41 60 0 0 516.3 687.2A71 41 60 0 0 587.3 728.2Z" fill="#7fb2d9" stroke="#111" stroke-width="1.0" fill-rule="evenodd"/>
<path d="M587.3 728.2A71 41 60 0 0 587.3 646.2A71 41 60 0 0 516.3 605.2A71 41 60 0 0 516.3 687.2A71 41 60 0 0 587.3 728.2Z" fill="none" stroke="#111" stroke-width="1.6" />
<path d="M520.9 603.2A71 41 60 0 0 525 682.2A71 41 60 0 0 591.4 725.2" fill="none" stroke="#111" stroke-width="1.6" />
<path d="M600.7 753.5A100 57.7 60 0 0 624.1 685.6A100 57.7 60 0 0 571.6 594.7A100 57.7 60 0 0 501.1 580.9" fill="none" stroke="#111" stroke-width="0.8" />
<ellipse cx="549.8" cy="597.8" rx="4.2" ry="2.4" transform="rotate(60 549.8 597.8)" fill="#c6f4f8" stroke="#111" stroke-width="0.9"/>
<ellipse cx="551.8" cy="734.5" rx="4.2" ry="2.4" transform="rotate(60 551.8 734.5)" fill="#c6f4f8" stroke="#111" stroke-width="0.9"/>
<path d="M525.8 605.5A66 38.1 60 0 0 525.8 681.8A66 38.1 60 0 0 591.8 719.9M532.1 606.8A62 35.8 60 0 0 534.7 676.6A62 35.8 60 0 0 593.9 713.7" fill="none" stroke="#333" stroke-width="0.9" />
<path d="M553.1 777.9L555.3 776.7A96.9 55.9 60 0 0 555.3 664.8A96.9 55.9 60 0 0 458.4 608.8L456.2 610.1A96.9 55.9 60 0 0 456.2 722A96.9 55.9 60 0 0 553.1 777.9Z" fill="none" stroke="#000" stroke-width="2.4" stroke-linejoin="round"/>
<path d="M553.1 777.9L555.3 776.7A96.9 55.9 60 0 0 555.3 664.8A96.9 55.9 60 0 0 458.4 608.8L456.2 610.1A96.9 55.9 60 0 0 456.2 722A96.9 55.9 60 0 0 553.1 777.9ZM552.4 774.2A93.3 53.9 60 0 0 551.3 667.1A93.3 53.9 60 0 0 459.1 612.6A93.3 53.9 60 0 0 460.2 719.7A93.3 53.9 60 0 0 552.4 774.1Z" fill="#f5a932" stroke="none" stroke-width="0" fill-rule="evenodd"/>
<path d="M553.1 777.9L555.3 776.7M456.2 610.1L458.4 608.8M555.3 776.7A96.9 55.9 60 0 0 555.3 664.8A96.9 55.9 60 0 0 458.4 608.8" fill="none" stroke="#111" stroke-width="0.8" />
<path d="M551.3 774.8A93.3 53.9 60 0 0 551.3 667.1A93.3 53.9 60 0 0 458 613.2A93.3 53.9 60 0 0 458 720.9A93.3 53.9 60 0 0 551.3 774.8ZM552.4 774.2A93.3 53.9 60 0 0 551.3 667.1A93.3 53.9 60 0 0 459.1 612.6A93.3 53.9 60 0 0 460.2 719.7A93.3 53.9 60 0 0 552.4 774.1Z" fill="#f5a932" stroke="none" stroke-width="0" fill-rule="evenodd"/>
<path d="M553.1 777.9A96.9 55.9 60 0 0 553.1 666A96.9 55.9 60 0 0 456.2 610.1A96.9 55.9 60 0 0 456.2 722A96.9 55.9 60 0 0 553.1 777.9ZM551.3 774.8A93.3 53.9 60 0 0 551.3 667.1A93.3 53.9 60 0 0 458 613.2A93.3 53.9 60 0 0 458 720.9A93.3 53.9 60 0 0 551.3 774.8Z" fill="#f5a932" stroke="#111" stroke-width="0.8" fill-rule="evenodd"/>
<path d="M551.3 774.8A93.3 53.9 60 0 0 551.3 667.1A93.3 53.9 60 0 0 458 613.2A93.3 53.9 60 0 0 458 720.9A93.3 53.9 60 0 0 551.3 774.8Z" fill="none" stroke="#111" stroke-width="0.9" />
<path d="M459.1 612.6A93.3 53.9 60 0 0 460.2 719.7A93.3 53.9 60 0 0 552.4 774.1" fill="none" stroke="#111" stroke-width="0.9" />
<path d="M440 821L450.4 815A77.6 44.8 60 0 0 450.4 725.4A77.6 44.8 60 0 0 372.8 680.6L362.4 686.6A77.6 44.8 60 0 0 362.4 776.2A77.6 44.8 60 0 0 440 821Z" fill="none" stroke="#000" stroke-width="2.8" stroke-linejoin="round"/>
<path d="M440 821L450.4 815A77.6 44.8 60 0 0 450.4 725.4A77.6 44.8 60 0 0 372.8 680.6L362.4 686.6A77.6 44.8 60 0 0 362.4 776.2A77.6 44.8 60 0 0 440 821ZM437.5 804.7A63 36.4 60 0 0 432.7 735.7A63 36.4 60 0 0 375.3 697A63 36.4 60 0 0 380.1 766A63 36.4 60 0 0 437.5 804.6Z" fill="#7fc8a2" stroke="none" stroke-width="0" fill-rule="evenodd"/>
<path d="M440 821L450.4 815M362.4 686.6L372.8 680.6M450.4 815A77.6 44.8 60 0 0 450.4 725.4A77.6 44.8 60 0 0 372.8 680.6" fill="none" stroke="#111" stroke-width="1.0" />
<path d="M432.7 808.4A63 36.4 60 0 0 432.7 735.7A63 36.4 60 0 0 369.7 699.3A63 36.4 60 0 0 369.7 772A63 36.4 60 0 0 432.7 808.4ZM437.5 804.7A63 36.4 60 0 0 432.7 735.7A63 36.4 60 0 0 375.3 697A63 36.4 60 0 0 380.1 766A63 36.4 60 0 0 437.5 804.6Z" fill="#7fc8a2" stroke="none" stroke-width="0" fill-rule="evenodd"/>
<path d="M440 821A77.6 44.8 60 0 0 440 731.4A77.6 44.8 60 0 0 362.4 686.6A77.6 44.8 60 0 0 362.4 776.2A77.6 44.8 60 0 0 440 821ZM432.7 808.4A63 36.4 60 0 0 432.7 735.7A63 36.4 60 0 0 369.7 699.3A63 36.4 60 0 0 369.7 772A63 36.4 60 0 0 432.7 808.4Z" fill="#7fc8a2" stroke="#111" stroke-width="1.0" fill-rule="evenodd"/>
<path d="M432.7 808.4A63 36.4 60 0 0 432.7 735.7A63 36.4 60 0 0 369.7 699.3A63 36.4 60 0 0 369.7 772A63 36.4 60 0 0 432.7 808.4Z" fill="none" stroke="#111" stroke-width="1.6" />
<path d="M375.3 697A63 36.4 60 0 0 380.1 766A63 36.4 60 0 0 437.5 804.6" fill="none" stroke="#111" stroke-width="1.6" />
<path d="M439.2 821A77.6 44.8 60 0 0 458.1 768.5A77.6 44.8 60 0 0 417 697.2A77.6 44.8 60 0 0 362 687.3" fill="none" stroke="#111" stroke-width="0.8" />
<ellipse cx="380.4" cy="765.9" rx="42.7" ry="24.7" transform="rotate(60 380.4 765.9)" fill="#ffffcc" stroke="none" stroke-width="0" />
<path d="M360 846.5L410.2 817.5A59.6 34.4 60 0 0 410.2 748.7A59.6 34.4 60 0 0 350.6 714.2L300.4 743.3A59.6 34.4 60 0 0 300.4 812.1A59.6 34.4 60 0 0 360 846.5Z" fill="none" stroke="#000" stroke-width="2.8" stroke-linejoin="round"/>
<path d="M360 846.5L410.2 817.5A59.6 34.4 60 0 0 410.2 748.7A59.6 34.4 60 0 0 350.6 714.2L300.4 743.3A59.6 34.4 60 0 0 300.4 812.1A59.6 34.4 60 0 0 360 846.5Z" fill="#e7e7c9" stroke="none" stroke-width="0" fill-rule="evenodd"/>
<path d="M360 846.5L410.2 817.5M300.4 743.3L350.6 714.2M410.2 817.5A59.6 34.4 60 0 0 410.2 748.7A59.6 34.4 60 0 0 350.6 714.2" fill="none" stroke="#111" stroke-width="1.0" />
<path d="M351.6 831.9A42.7 24.7 60 0 0 351.6 782.6A42.7 24.7 60 0 0 308.9 757.9A42.7 24.7 60 0 0 308.9 807.2A42.7 24.7 60 0 0 351.6 831.9Z" fill="#ffffcc" stroke="none" stroke-width="0" fill-rule="evenodd"/>
<path d="M360 846.5A59.6 34.4 60 0 0 360 777.7A59.6 34.4 60 0 0 300.4 743.3A59.6 34.4 60 0 0 300.4 812.1A59.6 34.4 60 0 0 360 846.5ZM351.6 831.9A42.7 24.7 60 0 0 351.6 782.6A42.7 24.7 60 0 0 308.9 757.9A42.7 24.7 60 0 0 308.9 807.2A42.7 24.7 60 0 0 351.6 831.9Z" fill="#e7e7c9" stroke="#111" stroke-width="1.0" fill-rule="evenodd"/>
<path d="M351.6 831.9A42.7 24.7 60 0 0 351.6 782.6A42.7 24.7 60 0 0 308.9 757.9A42.7 24.7 60 0 0 308.9 807.2A42.7 24.7 60 0 0 351.6 831.9Z" fill="none" stroke="#111" stroke-width="1.6" />
<path d="M356.2 839.9A52 30 60 0 0 356.2 779.9A52 30 60 0 0 304.2 749.9A52 30 60 0 0 304.2 809.9A52 30 60 0 0 356.2 839.9Z" fill="none" stroke="#444" stroke-width="0.8" />
<path d="M328.5 758.5Q335.5 795 363.5 816.5" fill="none" stroke="#111" stroke-width="1.5" />
<path d="M362 845A59.6 34.4 60 0 0 376.5 804.7A59.6 34.4 60 0 0 344.9 750A59.6 34.4 60 0 0 302.7 742.4" fill="none" stroke="#444" stroke-width="0.8" />
<circle cx="310" cy="752.3" r="2" fill="#e7e7c9" stroke="#444" stroke-width="0.7"/>
<circle cx="350.5" cy="837.5" r="2" fill="#e7e7c9" stroke="#444" stroke-width="0.7"/>
<path d="M330.4 872.6L338.2 868.1A67.4 38.9 60 0 0 338.2 790.3A67.4 38.9 60 0 0 270.8 751.4L263 755.9A67.4 38.9 60 0 0 263 833.7A67.4 38.9 60 0 0 330.4 872.6Z" fill="none" stroke="#000" stroke-width="2.6" stroke-linejoin="round"/>
<path d="M330.4 872.6L338.2 868.1A67.4 38.9 60 0 0 338.2 790.3A67.4 38.9 60 0 0 270.8 751.4L263 755.9A67.4 38.9 60 0 0 263 833.7A67.4 38.9 60 0 0 330.4 872.6ZM331 864.7A61.3 35.4 60 0 0 327.4 796.6A61.3 35.4 60 0 0 270.2 759.4A61.3 35.4 60 0 0 273.9 827.5A61.3 35.4 60 0 0 331 864.7Z" fill="#f5a932" stroke="none" stroke-width="0" fill-rule="evenodd"/>
<path d="M330.4 872.6L338.2 868.1M263 755.9L270.8 751.4M338.2 868.1A67.4 38.9 60 0 0 338.2 790.3A67.4 38.9 60 0 0 270.8 751.4" fill="none" stroke="#111" stroke-width="0.8" />
<path d="M327.4 867.4A61.3 35.4 60 0 0 327.4 796.6A61.3 35.4 60 0 0 266.1 761.2A61.3 35.4 60 0 0 266.1 832A61.3 35.4 60 0 0 327.4 867.4ZM331 864.7A61.3 35.4 60 0 0 327.4 796.6A61.3 35.4 60 0 0 270.2 759.4A61.3 35.4 60 0 0 273.9 827.5A61.3 35.4 60 0 0 331 864.7Z" fill="#f5a932" stroke="none" stroke-width="0" fill-rule="evenodd"/>
<path d="M330.4 872.6A67.4 38.9 60 0 0 330.4 794.8A67.4 38.9 60 0 0 263 755.9A67.4 38.9 60 0 0 263 833.7A67.4 38.9 60 0 0 330.4 872.6ZM327.4 867.4A61.3 35.4 60 0 0 327.4 796.6A61.3 35.4 60 0 0 266.1 761.2A61.3 35.4 60 0 0 266.1 832A61.3 35.4 60 0 0 327.4 867.4Z" fill="#f5a932" stroke="#111" stroke-width="0.8" fill-rule="evenodd"/>
<path d="M327.4 867.4A61.3 35.4 60 0 0 327.4 796.6A61.3 35.4 60 0 0 266.1 761.2A61.3 35.4 60 0 0 266.1 832A61.3 35.4 60 0 0 327.4 867.4Z" fill="none" stroke="#111" stroke-width="1.0" />
<path d="M270.2 759.4A61.3 35.4 60 0 0 273.9 827.5A61.3 35.4 60 0 0 331 864.7" fill="none" stroke="#111" stroke-width="1.0" />
<path d="M259.3 836L351.9 782.4" stroke="#fff" stroke-width="2.6" fill="none"/><path d="M259.3 836L351.9 782.4" stroke="#888" stroke-width="1.2" fill="none" stroke-dasharray="22 7"/>
<path d="M410.7 748.3L426.3 739.3" stroke="#fff" stroke-width="2.6" fill="none"/><path d="M410.7 748.3L426.3 739.3" stroke="#888" stroke-width="1.2" fill="none" stroke-dasharray="22 7"/>
<path d="M451.4 724.8L581.3 649.7" stroke="#fff" stroke-width="2.6" fill="none"/><path d="M451.4 724.8L581.3 649.7" stroke="#888" stroke-width="1.2" fill="none" stroke-dasharray="22 7"/>
<path d="M634.1 619.1L660 604.1" stroke="#fff" stroke-width="2.6" fill="none"/><path d="M634.1 619.1L660 604.1" stroke="#888" stroke-width="1.2" fill="none" stroke-dasharray="22 7"/>
<path d="M711.1 574.6L828 507" stroke="#fff" stroke-width="2.6" fill="none"/><path d="M711.1 574.6L828 507" stroke="#888" stroke-width="1.2" fill="none" stroke-dasharray="22 7"/>
<path d="M1035.2 602L1035.2 609A20 9.5 0 0 0 1075.2 609L1075.2 602Z" fill="#b4b4b7" stroke="#333" stroke-width="1.4"/><ellipse cx="1055.2" cy="602" rx="20" ry="9.5" fill="#c0c0c3" stroke="#333" stroke-width="1.2"/><path d="M1041.2 586L1041.2 603A14 6 0 0 0 1069.2 603L1069.2 586Z" fill="#bdbdc0" stroke="#333" stroke-width="1.3"/><path d="M1041.2 589A14 6 0 0 0 1069.2 589" fill="none" stroke="#666" stroke-width="0.8"/><path d="M1041.2 593A14 6 0 0 0 1069.2 593" fill="none" stroke="#666" stroke-width="0.8"/><path d="M1041.2 597A14 6 0 0 0 1069.2 597" fill="none" stroke="#666" stroke-width="0.8"/><path d="M1041.2 601A14 6 0 0 0 1069.2 601" fill="none" stroke="#666" stroke-width="0.8"/><ellipse cx="1055.2" cy="586" rx="14" ry="6" fill="#c4c4c7" stroke="#333" stroke-width="1.2"/>
<path d="M846.2 705L846.2 712A20 9.5 0 0 0 886.2 712L886.2 705Z" fill="#b4b4b7" stroke="#333" stroke-width="1.4"/><ellipse cx="866.2" cy="705" rx="20" ry="9.5" fill="#c0c0c3" stroke="#333" stroke-width="1.2"/><path d="M852.2 689L852.2 706A14 6 0 0 0 880.2 706L880.2 689Z" fill="#bdbdc0" stroke="#333" stroke-width="1.3"/><path d="M852.2 692A14 6 0 0 0 880.2 692" fill="none" stroke="#666" stroke-width="0.8"/><path d="M852.2 696A14 6 0 0 0 880.2 696" fill="none" stroke="#666" stroke-width="0.8"/><path d="M852.2 700A14 6 0 0 0 880.2 700" fill="none" stroke="#666" stroke-width="0.8"/><path d="M852.2 704A14 6 0 0 0 880.2 704" fill="none" stroke="#666" stroke-width="0.8"/><ellipse cx="866.2" cy="689" rx="14" ry="6" fill="#c4c4c7" stroke="#333" stroke-width="1.2"/>
<path d="M1055.2 517L1055.2 590" stroke="#fff" stroke-width="2.2" fill="none"/><path d="M1055.2 517L1055.2 590" stroke="#8c8c8c" stroke-width="1.3" fill="none" stroke-dasharray="9 6 46 6"/>
<path d="M866.2 655L866.2 693" stroke="#fff" stroke-width="2.2" fill="none"/><path d="M866.2 655L866.2 693" stroke="#8c8c8c" stroke-width="1.3" fill="none" stroke-dasharray="32 6"/>
<path d="M1663 661L1725.3 624.9A134 77.4 60 0 0 1725.3 470.2A134 77.4 60 0 0 1591.3 392.8L1529 429A134 77.4 60 0 0 1529 583.7A134 77.4 60 0 0 1663 661Z" fill="none" stroke="#000" stroke-width="3.0" stroke-linejoin="round"/>
<path d="M1705.5 590.7L1826.7 520.5A94.5 54.6 60 0 0 1826.7 411.4A94.5 54.6 60 0 0 1732.2 356.8L1611 427.1A94.5 54.6 60 0 0 1611 536.2A94.5 54.6 60 0 0 1705.5 590.7Z" fill="none" stroke="#000" stroke-width="3.0" stroke-linejoin="round"/>
<path d="M1705.5 590.7L1826.7 520.5A94.5 54.6 60 0 0 1826.7 411.4A94.5 54.6 60 0 0 1732.2 356.8L1611 427.1A94.5 54.6 60 0 0 1611 536.2A94.5 54.6 60 0 0 1705.5 590.7Z" fill="#ffe600" stroke="none" stroke-width="0" />
<path d="M1705.5 590.7L1826.7 520.5M1611 427.1L1732.2 356.8M1826.7 520.5A94.5 54.6 60 0 0 1826.7 411.4A94.5 54.6 60 0 0 1732.2 356.8" fill="none" stroke="#111" stroke-width="1.0" />
<ellipse cx="1658.3" cy="508.9" rx="94.5" ry="54.6" transform="rotate(60 1658.3 508.9)" fill="#ffe600" stroke="#111" stroke-width="1.0" />
<path d="M1663 661L1725.3 624.9A134 77.4 60 0 0 1725.3 470.2A134 77.4 60 0 0 1591.3 392.8L1529 429A134 77.4 60 0 0 1529 583.7A134 77.4 60 0 0 1663 661Z" fill="#ffe600" stroke="none" stroke-width="0" />
<path d="M1663 661L1725.3 624.9M1529 429L1591.3 392.8M1725.3 624.9A134 77.4 60 0 0 1725.3 470.2A134 77.4 60 0 0 1591.3 392.8" fill="none" stroke="#111" stroke-width="1.0" />
<ellipse cx="1596" cy="545" rx="134" ry="77.4" transform="rotate(60 1596 545)" fill="#e4e4e7" stroke="#111" stroke-width="1.0" />
<ellipse cx="1651.8" cy="641.6" rx="8.5" ry="4.9" transform="rotate(60 1651.8 641.6)" fill="#c6f4f8" stroke="#111" stroke-width="1"/>
<ellipse cx="1672.2" cy="612.5" rx="8.5" ry="4.9" transform="rotate(60 1672.2 612.5)" fill="#c6f4f8" stroke="#111" stroke-width="1"/>
<ellipse cx="1672.2" cy="565.4" rx="8.5" ry="4.9" transform="rotate(60 1672.2 565.4)" fill="#c6f4f8" stroke="#111" stroke-width="1"/>
<ellipse cx="1651.8" cy="512.8" rx="8.5" ry="4.9" transform="rotate(60 1651.8 512.8)" fill="#c6f4f8" stroke="#111" stroke-width="1"/>
<ellipse cx="1616.4" cy="468.8" rx="8.5" ry="4.9" transform="rotate(60 1616.4 468.8)" fill="#c6f4f8" stroke="#111" stroke-width="1"/>
<ellipse cx="1575.6" cy="445.3" rx="8.5" ry="4.9" transform="rotate(60 1575.6 445.3)" fill="#c6f4f8" stroke="#111" stroke-width="1"/>
<ellipse cx="1540.2" cy="448.4" rx="8.5" ry="4.9" transform="rotate(60 1540.2 448.4)" fill="#c6f4f8" stroke="#111" stroke-width="1"/>
<ellipse cx="1519.8" cy="477.5" rx="8.5" ry="4.9" transform="rotate(60 1519.8 477.5)" fill="#c6f4f8" stroke="#111" stroke-width="1"/>
<ellipse cx="1519.8" cy="524.6" rx="8.5" ry="4.9" transform="rotate(60 1519.8 524.6)" fill="#c6f4f8" stroke="#111" stroke-width="1"/>
<ellipse cx="1540.2" cy="577.2" rx="8.5" ry="4.9" transform="rotate(60 1540.2 577.2)" fill="#c6f4f8" stroke="#111" stroke-width="1"/>
<ellipse cx="1575.6" cy="621.2" rx="8.5" ry="4.9" transform="rotate(60 1575.6 621.2)" fill="#c6f4f8" stroke="#111" stroke-width="1"/>
<ellipse cx="1616.4" cy="644.7" rx="8.5" ry="4.9" transform="rotate(60 1616.4 644.7)" fill="#c6f4f8" stroke="#111" stroke-width="1"/>
<path d="M1621.8 645.6L1637.3 636.6A100 57.7 60 0 0 1637.3 521.1A100 57.7 60 0 0 1537.3 463.4L1521.8 472.4A100 57.7 60 0 0 1521.8 587.9A100 57.7 60 0 0 1621.8 645.6Z" fill="none" stroke="#000" stroke-width="2.6" stroke-linejoin="round"/>
<path d="M1639.6 640.5L1648.2 635.5A104.5 60.3 60 0 0 1648.2 514.8A104.5 60.3 60 0 0 1543.8 454.5L1535.1 459.5A104.5 60.3 60 0 0 1535.1 580.2A104.5 60.3 60 0 0 1639.6 640.5Z" fill="none" stroke="#000" stroke-width="2.6" stroke-linejoin="round"/>
<path d="M1639.6 640.5L1648.2 635.5A104.5 60.3 60 0 0 1648.2 514.8A104.5 60.3 60 0 0 1543.8 454.5L1535.1 459.5A104.5 60.3 60 0 0 1535.1 580.2A104.5 60.3 60 0 0 1639.6 640.5Z" fill="#dcdce0" stroke="none" stroke-width="0" />
<path d="M1639.6 640.5L1648.2 635.5M1535.1 459.5L1543.8 454.5M1648.2 635.5A104.5 60.3 60 0 0 1648.2 514.8A104.5 60.3 60 0 0 1543.8 454.5" fill="none" stroke="#111" stroke-width="1.0" />
<ellipse cx="1587.3" cy="550" rx="104.5" ry="60.3" transform="rotate(60 1587.3 550)" fill="#dcdce0" stroke="#111" stroke-width="1.0" />
<path d="M1621.8 645.6L1637.3 636.6A100 57.7 60 0 0 1637.3 521.1A100 57.7 60 0 0 1537.3 463.4L1521.8 472.4A100 57.7 60 0 0 1521.8 587.9A100 57.7 60 0 0 1621.8 645.6Z" fill="#dcdce0" stroke="none" stroke-width="0" />
<path d="M1621.8 645.6L1637.3 636.6M1521.8 472.4L1537.3 463.4M1637.3 636.6A100 57.7 60 0 0 1637.3 521.1A100 57.7 60 0 0 1537.3 463.4" fill="none" stroke="#111" stroke-width="1.0" />
<ellipse cx="1571.8" cy="559" rx="100" ry="57.7" transform="rotate(60 1571.8 559)" fill="#e4e4e7" stroke="#111" stroke-width="1.0" />
<path d="M1624.1 643.8A100 57.7 60 0 0 1647.5 575.9A100 57.7 60 0 0 1595 485A100 57.7 60 0 0 1524.5 471.3" fill="none" stroke="#222" stroke-width="1.3" />
<ellipse cx="1571.8" cy="559" rx="77.5" ry="44.7" transform="rotate(60 1571.8 559)" fill="#ffffcc" stroke="#111" stroke-width="1.5" />
<clipPath id="cl_b2"><ellipse cx="1571.8" cy="559" rx="76.8" ry="44.3" transform="rotate(60 1571.8 559)" fill="#000" stroke="none" stroke-width="0" /></clipPath>
<g clip-path="url(#cl_b2)"><ellipse cx="1578.7" cy="555" rx="76" ry="43.9" transform="rotate(60 1578.7 555)" fill="none" stroke="#555" stroke-width="0.9" /><ellipse cx="1590.8" cy="548" rx="72" ry="41.6" transform="rotate(60 1590.8 548)" fill="none" stroke="#555" stroke-width="0.9" /></g>
<path d="M1616 635.7A88.5 51.1 60 0 0 1616 533.5A88.5 51.1 60 0 0 1527.5 482.4A88.5 51.1 60 0 0 1527.5 584.6A88.5 51.1 60 0 0 1616 635.7Z" fill="none" stroke="#444" stroke-width="0.8" />
<path d="M1478.2 484.4L1542.3 447.4" stroke="#fff" stroke-width="2.6" fill="none"/><path d="M1478.2 484.4L1542.3 447.4" stroke="#888" stroke-width="1.2" fill="none" stroke-dasharray="22 7"/>
<path d="M1639.3 391.4L1693 360.4" stroke="#888" stroke-width="1.2" fill="none" stroke-dasharray="22 7"/>
<path d="M1694.8 359.4L1725.9 341.4" fill="none" stroke="#777" stroke-width="1.0" />
<path d="M1584.2 665.5L1587.6 663.5A98.3 56.8 60 0 0 1587.6 550A98.3 56.8 60 0 0 1489.3 493.2L1485.9 495.2A98.3 56.8 60 0 0 1485.9 608.7A98.3 56.8 60 0 0 1584.2 665.5Z" fill="none" stroke="#000" stroke-width="2.8" stroke-linejoin="round"/>
<path d="M1584.2 665.5L1587.6 663.5A98.3 56.8 60 0 0 1587.6 550A98.3 56.8 60 0 0 1489.3 493.2L1485.9 495.2A98.3 56.8 60 0 0 1485.9 608.7A98.3 56.8 60 0 0 1584.2 665.5ZM1583 659.5A92.6 53.5 60 0 0 1581.3 553.6A92.6 53.5 60 0 0 1490.5 499.2A92.6 53.5 60 0 0 1492.2 605.1A92.6 53.5 60 0 0 1583 659.5Z" fill="#f5a932" stroke="none" stroke-width="0" fill-rule="evenodd"/>
<path d="M1583 659.5A92.6 53.5 60 0 0 1581.3 553.6A92.6 53.5 60 0 0 1490.5 499.2A92.6 53.5 60 0 0 1492.2 605.1A92.6 53.5 60 0 0 1583 659.5Z" fill="none" stroke="#111" stroke-width="1.5" />
<path d="M1536.6 644.2L1557.4 632.1A56 32.3 60 0 0 1557.4 567.5A56 32.3 60 0 0 1501.4 535.1L1480.6 547.2A56 32.3 60 0 0 1480.6 611.8A56 32.3 60 0 0 1536.6 644.2Z" fill="none" stroke="#000" stroke-width="2.8" stroke-linejoin="round"/>
<path d="M1536.6 644.2L1557.4 632.1A56 32.3 60 0 0 1557.4 567.5A56 32.3 60 0 0 1501.4 535.1L1480.6 547.2A56 32.3 60 0 0 1480.6 611.8A56 32.3 60 0 0 1536.6 644.2ZM1526.4 602.4A25.5 14.7 60 0 0 1511.6 576.9A25.5 14.7 60 0 0 1526.4 602.4Z" fill="#e7e7c9" stroke="none" stroke-width="0" fill-rule="evenodd"/>
<path d="M1536.6 644.2L1557.4 632.1M1480.6 547.2L1501.4 535.1M1557.4 632.1A56 32.3 60 0 0 1557.4 567.5A56 32.3 60 0 0 1501.4 535.1" fill="none" stroke="#111" stroke-width="1.0" />
<path d="M1521.4 617.7A25.5 14.7 60 0 0 1521.4 588.3A25.5 14.7 60 0 0 1495.9 573.6A25.5 14.7 60 0 0 1495.9 603A25.5 14.7 60 0 0 1521.4 617.7ZM1526.4 602.4A25.5 14.7 60 0 0 1511.6 576.9A25.5 14.7 60 0 0 1526.4 602.4Z" fill="#e7e7c9" stroke="none" stroke-width="0" fill-rule="evenodd"/>
<path d="M1536.6 644.2A56 32.3 60 0 0 1536.6 579.5A56 32.3 60 0 0 1480.6 547.2A56 32.3 60 0 0 1480.6 611.8A56 32.3 60 0 0 1536.6 644.2ZM1521.4 617.7A25.5 14.7 60 0 0 1521.4 588.3A25.5 14.7 60 0 0 1495.9 573.6A25.5 14.7 60 0 0 1495.9 603A25.5 14.7 60 0 0 1521.4 617.7Z" fill="#e7e7c9" stroke="#111" stroke-width="1.0" fill-rule="evenodd"/>
<path d="M1521.4 617.7A25.5 14.7 60 0 0 1521.4 588.3A25.5 14.7 60 0 0 1495.9 573.6A25.5 14.7 60 0 0 1495.9 603A25.5 14.7 60 0 0 1521.4 617.7Z" fill="none" stroke="#111" stroke-width="1.6" />
<path d="M1511.6 576.8A25.5 14.7 60 0 0 1526.4 602.4" fill="none" stroke="#111" stroke-width="1.6" />
<path d="M1466 719.8L1491.9 704.7A86 49.7 60 0 0 1491.9 605.4A86 49.7 60 0 0 1405.9 555.8L1380 570.8A86 49.7 60 0 0 1380 670.1A86 49.7 60 0 0 1466 719.8Z" fill="none" stroke="#000" stroke-width="2.9" stroke-linejoin="round"/>
<path d="M1466 719.8L1491.9 704.7A86 49.7 60 0 0 1491.9 605.4A86 49.7 60 0 0 1405.9 555.8L1380 570.8A86 49.7 60 0 0 1380 670.1A86 49.7 60 0 0 1466 719.8Z" fill="#bdbdc0" stroke="none" stroke-width="0" />
<path d="M1466 719.8L1491.9 704.7M1380 570.8L1405.9 555.8M1491.9 704.7A86 49.7 60 0 0 1491.9 605.4A86 49.7 60 0 0 1405.9 555.8" fill="none" stroke="#111" stroke-width="1.0" />
<ellipse cx="1423" cy="645.3" rx="86" ry="49.7" transform="rotate(60 1423 645.3)" fill="#c6c6c9" stroke="#111" stroke-width="1.0" />
<path d="M1483.6 709.3A86 49.7 60 0 0 1502.8 650.8A86 49.7 60 0 0 1458.1 573.3A86 49.7 60 0 0 1397.8 560.7" fill="none" stroke="#333" stroke-width="0.8" />
<path d="M1453.2 697.7L1456.8 702L1458.1 701L1455.9 695.9L1457.1 694.8L1460.8 698.7L1462 697.4L1459.3 692.4L1460.3 691L1464.2 694.4L1465.1 692.8L1462 688L1462.8 686.4L1466.8 689.1L1467.5 687.3L1464.1 682.8L1464.5 681L1468.6 683.1L1469 681L1465.3 676.9L1465.5 674.9L1469.5 676.4L1469.6 674.1L1465.7 670.5L1465.7 668.3L1469.6 669L1469.4 666.6L1465.4 663.5L1465.1 661.2L1468.8 661.3L1468.3 658.7L1464.3 656.3L1463.7 653.9L1467.1 653.2L1466.4 650.6L1462.4 648.8L1461.6 646.4L1464.6 645L1463.6 642.4L1459.7 641.3L1458.7 638.9L1461.4 636.8L1460.2 634.2L1456.4 633.8L1455.2 631.5L1457.4 628.8L1456 626.2L1452.5 626.6L1451.1 624.3L1452.8 621L1451.2 618.6L1448 619.7L1446.4 617.5L1447.6 613.7L1445.8 611.5L1443 613.2L1441.3 611.3L1442 607.1L1440.1 605.1L1437.7 607.4L1435.9 605.7L1436 601.1L1434 599.3L1432.1 602.3L1430.2 600.8L1429.8 595.9L1427.7 594.5L1426.3 598L1424.4 596.8L1423.4 591.7L1421.4 590.5L1420.5 594.5L1418.6 593.6L1417.1 588.4L1415 587.6L1414.7 592L1412.8 591.5L1410.8 586.3L1408.9 585.8L1409 590.6L1407.3 590.3L1404.8 585.2L1402.9 585.1L1403.7 590.1L1402 590.1L1399.1 585.2L1397.4 585.5L1398.6 590.6L1397.1 591L1393.9 586.4L1392.3 587L1394.1 592.2L1392.7 592.9L1389.2 588.6L1387.8 589.6L1390 594.8L1388.9 595.8L1385.1 591.9L1383.9 593.2L1386.6 598.3L1385.7 599.6L1381.7 596.2L1380.8 597.8L1383.9 602.6L1383.2 604.2L1379.1 601.5L1378.5 603.3L1381.9 607.8L1381.4 609.6L1377.4 607.5L1377 609.6L1380.6 613.7L1380.4 615.7L1376.4 614.2L1376.3 616.5L1380.2 620.1L1380.2 622.3L1376.4 621.6L1376.5 624L1380.5 627.1L1380.8 629.4L1377.2 629.3L1377.6 631.9L1381.7 634.3L1382.2 636.7L1378.8 637.4L1379.6 640L1383.6 641.8L1384.3 644.2L1381.3 645.6L1382.3 648.2L1386.2 649.3L1387.2 651.7L1384.6 653.8L1385.8 656.4L1389.5 656.8L1390.7 659.2L1388.6 661.8L1390 664.4L1393.5 664L1394.9 666.3L1393.2 669.6L1394.8 672L1398 670.9L1399.5 673.1L1398.3 676.9L1400.1 679.1L1402.9 677.4L1404.6 679.3L1404 683.6L1405.8 685.5L1408.3 683.2L1410 684.9L1409.9 689.5L1411.9 691.3L1413.9 688.3L1415.7 689.8L1416.2 694.7L1418.2 696.2L1419.6 692.6L1421.5 693.8L1422.5 698.9L1424.6 700.1L1425.5 696.1L1427.3 697L1428.9 702.2L1430.9 703L1431.3 698.6L1433.1 699.1L1435.1 704.4L1437.1 704.8L1436.9 700.1L1438.7 700.3L1441.2 705.4L1443 705.5L1442.3 700.5L1443.9 700.5L1446.8 705.4L1448.6 705.1L1447.3 700L1448.8 699.6L1452.1 704.2L1453.6 703.6L1451.9 698.4Z" fill="#fff" stroke="#111" stroke-width="1.0" />
<path d="M1387.2 607.5L1408 595.5A7.5 4.3 60 0 0 1408 586.8A7.5 4.3 60 0 0 1400.5 582.5L1379.8 594.5A7.5 4.3 60 0 0 1379.8 603.2A7.5 4.3 60 0 0 1387.2 607.5Z" fill="none" stroke="#000" stroke-width="2.0" stroke-linejoin="round"/>
<path d="M1387.2 607.5L1408 595.5A7.5 4.3 60 0 0 1408 586.8A7.5 4.3 60 0 0 1400.5 582.5L1379.8 594.5A7.5 4.3 60 0 0 1379.8 603.2A7.5 4.3 60 0 0 1387.2 607.5Z" fill="#a9a9ad" stroke="none" stroke-width="0" />
<path d="M1387.2 607.5L1408 595.5M1379.8 594.5L1400.5 582.5M1408 595.5A7.5 4.3 60 0 0 1408 586.8A7.5 4.3 60 0 0 1400.5 582.5" fill="none" stroke="#111" stroke-width="0.6" />
<ellipse cx="1383.5" cy="601" rx="7.5" ry="4.3" transform="rotate(60 1383.5 601)" fill="#b8b8bb" stroke="#111" stroke-width="0.6" />
<path d="M1388.1 606.7L1408.9 594.7M1388.8 604.1L1409.6 592.1M1388.1 600.6L1408.9 588.6M1386.2 597.2L1406.9 585.2M1383.5 594.9L1404.3 582.9M1380.8 594.2L1401.6 582.2" fill="none" stroke="#222" stroke-width="0.9" />
<path d="M1386.6 606.4L1388.1 607.9L1388.7 607.1L1387.6 605.1L1387.8 604.3L1389.4 604.7L1389.3 603.3L1387.7 602.1L1387.4 601L1388.4 600.1L1387.7 598.6L1386.2 598.6L1385.5 597.6L1385.6 595.8L1384.4 594.8L1383.7 596.1L1382.8 595.6L1381.9 593.6L1380.8 593.4L1381.1 595.4L1380.4 595.6L1378.9 594.1L1378.3 594.9L1379.4 596.9L1379.2 597.7L1377.6 597.3L1377.7 598.7L1379.3 599.9L1379.6 601L1378.6 601.9L1379.3 603.4L1380.8 603.4L1381.5 604.4L1381.4 606.2L1382.6 607.2L1383.3 605.9L1384.2 606.4L1385.1 608.4L1386.2 608.6L1385.9 606.6Z" fill="#b8b8bb" stroke="#222" stroke-width="0.8" />
<path d="M1454 699L1474.8 687A7.5 4.3 60 0 0 1474.8 678.3A7.5 4.3 60 0 0 1467.3 674L1446.5 686A7.5 4.3 60 0 0 1446.5 694.7A7.5 4.3 60 0 0 1454 699Z" fill="none" stroke="#000" stroke-width="2.0" stroke-linejoin="round"/>
<path d="M1454 699L1474.8 687A7.5 4.3 60 0 0 1474.8 678.3A7.5 4.3 60 0 0 1467.3 674L1446.5 686A7.5 4.3 60 0 0 1446.5 694.7A7.5 4.3 60 0 0 1454 699Z" fill="#a9a9ad" stroke="none" stroke-width="0" />
<path d="M1454 699L1474.8 687M1446.5 686L1467.3 674M1474.8 687A7.5 4.3 60 0 0 1474.8 678.3A7.5 4.3 60 0 0 1467.3 674" fill="none" stroke="#111" stroke-width="0.6" />
<ellipse cx="1450.3" cy="692.5" rx="7.5" ry="4.3" transform="rotate(60 1450.3 692.5)" fill="#b8b8bb" stroke="#111" stroke-width="0.6" />
<path d="M1454.9 698.2L1475.7 686.2M1455.6 695.6L1476.4 683.6M1454.9 692.1L1475.7 680.1M1453 688.7L1473.7 676.7M1450.3 686.4L1471.1 674.4M1447.6 685.7L1468.4 673.7" fill="none" stroke="#222" stroke-width="0.9" />
<path d="M1453.4 697.9L1454.9 699.4L1455.5 698.6L1454.4 696.6L1454.6 695.8L1456.2 696.2L1456.1 694.8L1454.5 693.6L1454.2 692.5L1455.2 691.6L1454.5 690.1L1453 690.1L1452.3 689.1L1452.4 687.3L1451.2 686.3L1450.5 687.6L1449.6 687.1L1448.7 685.1L1447.6 684.9L1447.9 686.9L1447.2 687.1L1445.7 685.6L1445.1 686.4L1446.2 688.4L1446 689.2L1444.4 688.8L1444.5 690.2L1446.1 691.4L1446.4 692.5L1445.4 693.4L1446.1 694.9L1447.6 694.9L1448.3 695.9L1448.2 697.7L1449.4 698.7L1450.1 697.4L1451 697.9L1451.9 699.9L1453 700.1L1452.7 698.1Z" fill="#b8b8bb" stroke="#222" stroke-width="0.8" />
<path d="M1184.2 867.5L1215.7 849.3A70.8 40.9 60 0 0 1215.7 767.6A70.8 40.9 60 0 0 1144.9 726.7L1113.4 744.9A70.8 40.9 60 0 0 1113.4 826.6A70.8 40.9 60 0 0 1184.2 867.5Z" fill="none" stroke="#000" stroke-width="2.9" stroke-linejoin="round"/>
<path d="M1216.7 851L1248.8 832.5A72.8 42 60 0 0 1248.8 748.5A72.8 42 60 0 0 1176 706.5L1143.9 725A72.8 42 60 0 0 1143.9 809A72.8 42 60 0 0 1216.7 851Z" fill="none" stroke="#000" stroke-width="2.9" stroke-linejoin="round"/>
<path d="M1248.8 832.5L1257.6 821.9A68 39.3 60 0 0 1257.6 743.4A68 39.3 60 0 0 1189.6 704.1L1176 706.5A72.8 42 60 0 0 1176 790.5A72.8 42 60 0 0 1248.8 832.5Z" fill="none" stroke="#000" stroke-width="2.9" stroke-linejoin="round"/>
<path d="M1257.6 821.9L1437.7 717.9A68 39.3 60 0 0 1437.7 639.4A68 39.3 60 0 0 1369.7 600.1L1189.6 704.1A68 39.3 60 0 0 1189.6 782.6A68 39.3 60 0 0 1257.6 821.9Z" fill="none" stroke="#000" stroke-width="2.9" stroke-linejoin="round"/>
<path d="M1257.6 821.9L1437.7 717.9A68 39.3 60 0 0 1437.7 639.4A68 39.3 60 0 0 1369.7 600.1L1189.6 704.1A68 39.3 60 0 0 1189.6 782.6A68 39.3 60 0 0 1257.6 821.9Z" fill="#eef0d9" stroke="none" stroke-width="0" />
<path d="M1257.6 821.9L1437.7 717.9M1189.6 704.1L1369.7 600.1M1437.7 717.9A68 39.3 60 0 0 1437.7 639.4A68 39.3 60 0 0 1369.7 600.1" fill="none" stroke="#111" stroke-width="1.0" />
<ellipse cx="1223.6" cy="763" rx="68" ry="39.3" transform="rotate(60 1223.6 763)" fill="#eef0d9" stroke="#111" stroke-width="1.0" />
<path d="M1248.8 832.5L1257.6 821.9A68 39.3 60 0 0 1257.6 743.4A68 39.3 60 0 0 1189.6 704.1L1176 706.5A72.8 42 60 0 0 1176 790.5A72.8 42 60 0 0 1248.8 832.5Z" fill="#eef0d9" stroke="none" stroke-width="0" />
<path d="M1248.8 832.5L1257.6 821.9M1176 706.5L1189.6 704.1" fill="none" stroke="#111" stroke-width="1.0" />
<ellipse cx="1212.4" cy="769.5" rx="72.8" ry="42" transform="rotate(60 1212.4 769.5)" fill="#eef0d9" stroke="#111" stroke-width="1.0" />
<path d="M1216.7 851L1248.8 832.5A72.8 42 60 0 0 1248.8 748.5A72.8 42 60 0 0 1176 706.5L1143.9 725A72.8 42 60 0 0 1143.9 809A72.8 42 60 0 0 1216.7 851Z" fill="#eef0d9" stroke="none" stroke-width="0" />
<path d="M1216.7 851L1248.8 832.5M1143.9 725L1176 706.5M1248.8 832.5A72.8 42 60 0 0 1248.8 748.5A72.8 42 60 0 0 1176 706.5" fill="none" stroke="#111" stroke-width="1.0" />
<ellipse cx="1180.3" cy="788" rx="72.8" ry="42" transform="rotate(60 1180.3 788)" fill="#eef0d9" stroke="#111" stroke-width="1.0" />
<path d="M1184.2 867.5L1215.7 849.3A70.8 40.9 60 0 0 1215.7 767.6A70.8 40.9 60 0 0 1144.9 726.7L1113.4 744.9A70.8 40.9 60 0 0 1113.4 826.6A70.8 40.9 60 0 0 1184.2 867.5Z" fill="#eef0d9" stroke="none" stroke-width="0" />
<path d="M1184.2 867.5L1215.7 849.3M1113.4 744.9L1144.9 726.7M1215.7 849.3A70.8 40.9 60 0 0 1215.7 767.6A70.8 40.9 60 0 0 1144.9 726.7" fill="none" stroke="#111" stroke-width="1.0" />
<ellipse cx="1148.8" cy="806.2" rx="70.8" ry="40.9" transform="rotate(60 1148.8 806.2)" fill="#eef0d9" stroke="#111" stroke-width="1.0" />
<path d="M1435.3 719.1L1443.7 712.1L1441.7 715L1449.2 707.1L1446.6 708.9L1453.3 700.2L1450 700.8L1455.7 691.6L1451.7 691.3L1456.5 681.7L1451.5 680.5L1455.5 670.8L1449.6 668.9L1452.8 659.4L1446 657L1448.5 647.8L1440.9 645.1L1442.8 636.4L1434.3 633.8L1435.9 625.8L1426.6 623.4L1428 616.3L1418.1 614.3L1419.4 608.3L1409 606.9L1410.4 602L1399.7 601.4L1401.5 597.7L1390.6 598L1392.8 595.5L1382 596.9L1384.8 595.6L1374.2 598.1L1377.7 597.9L1367.5 601.6Z" fill="#eef0d9" stroke="none" stroke-width="0" />
<path d="M1435.3 719.1L1443.7 712.1L1441.7 715L1449.2 707.1L1446.6 708.9L1453.3 700.2L1450 700.8L1455.7 691.6L1451.7 691.3L1456.5 681.7L1451.5 680.5L1455.5 670.8L1449.6 668.9L1452.8 659.4L1446 657L1448.5 647.8L1440.9 645.1L1442.8 636.4L1434.3 633.8L1435.9 625.8L1426.6 623.4L1428 616.3L1418.1 614.3L1419.4 608.3L1409 606.9L1410.4 602L1399.7 601.4L1401.5 597.7L1390.6 598L1392.8 595.5L1382 596.9L1384.8 595.6L1374.2 598.1L1377.7 597.9L1367.5 601.6" fill="none" stroke="#111" stroke-width="1.1" />
<path d="M1189.2 864.5A70.8 40.9 60 0 0 1204.3 816.3A70.8 40.9 60 0 0 1167.8 753.1A70.8 40.9 60 0 0 1118.5 742" fill="none" stroke="#111" stroke-width="0.8" />
<path d="M1209.1 853A70.8 40.9 60 0 0 1224.2 804.8A70.8 40.9 60 0 0 1187.7 741.6A70.8 40.9 60 0 0 1138.4 730.5" fill="none" stroke="#111" stroke-width="1.5" />
<path d="M1218.2 850.1A72.8 42 60 0 0 1233.7 800.5A72.8 42 60 0 0 1196.2 735.5A72.8 42 60 0 0 1145.5 724.1" fill="none" stroke="#111" stroke-width="0.8" />
<path d="M1223.4 847.1A72.8 42 60 0 0 1238.9 797.5A72.8 42 60 0 0 1201.4 732.5A72.8 42 60 0 0 1150.7 721.1" fill="none" stroke="#111" stroke-width="1.6" />
<path d="M1226.9 845.1A72.8 42 60 0 0 1242.4 795.5A72.8 42 60 0 0 1204.9 730.5A72.8 42 60 0 0 1154.2 719.1" fill="none" stroke="#111" stroke-width="0.8" />
<path d="M1235.5 840.1A72.8 42 60 0 0 1251 790.5A72.8 42 60 0 0 1213.5 725.5A72.8 42 60 0 0 1162.8 714.1" fill="none" stroke="#111" stroke-width="0.8" />
<path d="M1239.9 837.6A72.8 42 60 0 0 1255.4 788A72.8 42 60 0 0 1217.9 723A72.8 42 60 0 0 1167.2 711.6" fill="none" stroke="#111" stroke-width="1.6" />
<path d="M1243.3 835.6A72.8 42 60 0 0 1258.8 786A72.8 42 60 0 0 1221.3 721A72.8 42 60 0 0 1170.6 709.6" fill="none" stroke="#111" stroke-width="0.8" />
<path d="M1434.8 719.6L1435.1 719.4L1435.4 719.3L1435.7 719.1L1436 718.9L1436.3 718.7L1436.6 718.5L1436.9 718.3L1437.2 718.2L1437.5 718L1437.8 717.8L1438.1 717.6L1438.4 717.4L1438.7 717.2L1439 717L1439.3 716.8L1439.7 716.7M1424.9 725.3L1426.2 724.5L1427.6 723.7L1428.9 722.9L1430.2 722.1L1431.5 721.3L1432.7 720.4L1434 719.6L1435.3 718.7L1436.5 717.8L1437.8 716.9L1439 716L1440.2 715.1L1441.5 714.2L1442.7 713.2L1443.9 712.2L1445.1 711.3M1415.1 731L1417.4 729.6L1419.7 728.2L1422 726.7L1424.3 725.2L1426.5 723.7L1428.7 722.1L1430.8 720.4L1433 718.8L1435.1 717L1437.2 715.3L1439.2 713.5L1441.2 711.7L1443.2 709.8L1445.2 707.9L1447.1 706L1449 704M1405.2 736.7L1408.6 734.7L1411.9 732.6L1415.1 730.4L1418.3 728.2L1421.4 725.8L1424.4 723.4L1427.4 720.9L1430.3 718.3L1433.2 715.7L1436 712.9L1438.7 710.1L1441.4 707.2L1443.9 704.3L1446.4 701.3L1448.9 698.2L1451.2 695.1M1395.4 742.3L1399.7 739.7L1404 737L1408.1 734.1L1412.2 731L1416.1 727.8L1420 724.5L1423.7 721L1427.3 717.4L1430.8 713.7L1434.2 709.9L1437.4 705.9L1440.5 701.9L1443.5 697.8L1446.4 693.5L1449.2 689.2L1451.8 684.9M1385.5 748L1390.9 744.8L1396.1 741.3L1401.1 737.6L1406 733.7L1410.7 729.6L1415.3 725.3L1419.7 720.8L1423.8 716.1L1427.9 711.3L1431.7 706.3L1435.3 701.1L1438.8 695.8L1442 690.4L1445.1 684.9L1447.9 679.4L1450.6 673.7M1375.7 753.7L1382 749.8L1388.2 745.6L1394.1 741.1L1399.7 736.3L1405.2 731.2L1410.4 725.9L1415.3 720.3L1420 714.4L1424.4 708.4L1428.5 702.1L1432.4 695.7L1436 689.2L1439.3 682.5L1442.4 675.7L1445.2 668.9L1447.7 662M1365.9 759.4L1373.2 754.9L1380.2 749.9L1387 744.6L1393.4 738.8L1399.5 732.7L1405.2 726.2L1410.6 719.4L1415.7 712.4L1420.4 705.1L1424.7 697.6L1428.7 689.9L1432.3 682.1L1435.5 674.2L1438.4 666.2L1441 658.2L1443.3 650.2M1356 765.1L1364.3 759.9L1372.3 754.2L1379.8 747.9L1386.9 741.2L1393.6 734L1399.9 726.4L1405.6 718.4L1411 710.1L1415.8 701.5L1420.2 692.7L1424.1 683.8L1427.6 674.7L1430.6 665.6L1433.3 656.6L1435.5 647.6L1437.4 638.8M1346.2 770.8L1355.5 764.9L1364.3 758.4L1372.6 751.2L1380.4 743.4L1387.6 735.1L1394.2 726.3L1400.3 717.1L1405.8 707.5L1410.7 697.6L1415 687.6L1418.8 677.5L1422 667.3L1424.7 657.2L1427 647.2L1428.8 637.5L1430.3 628M1336.3 776.4L1346.6 769.9L1356.3 762.6L1365.3 754.5L1373.7 745.6L1381.4 736.1L1388.4 726.1L1394.7 715.6L1400.2 704.7L1405 693.6L1409.2 682.4L1412.7 671.1L1415.6 659.9L1417.9 649L1419.8 638.3L1421.2 628.1L1422.2 618.4M1326.5 782.1L1337.7 774.9L1348.2 766.8L1358 757.6L1366.9 747.7L1375 737L1382.3 725.7L1388.7 713.9L1394.2 701.8L1398.9 689.5L1402.8 677.1L1405.9 664.9L1408.4 652.9L1410.3 641.3L1411.7 630.2L1412.8 619.9L1413.5 610.3M1316.7 787.8L1328.8 779.9L1340.2 770.9L1350.6 760.8L1360.1 749.7L1368.5 737.7L1375.9 725.2L1382.3 712.1L1387.7 698.8L1392.2 685.3L1395.8 672L1398.5 658.9L1400.6 646.3L1402.1 634.3L1403.1 623.2L1403.8 613L1404.4 603.9M1306.8 793.5L1319.9 784.9L1332.1 775L1343.1 763.8L1353.1 751.5L1361.8 738.4L1369.3 724.5L1375.7 710.2L1380.9 695.7L1385 681.2L1388.2 667L1390.6 653.3L1392.2 640.3L1393.3 628.3L1394.1 617.3L1394.7 607.7L1395.3 599.5M1297 799.2L1311 789.9L1324 779.1L1335.6 766.8L1346 753.4L1354.9 738.9L1362.5 723.8L1368.7 708.3L1373.7 692.7L1377.5 677.2L1380.2 662.3L1382.1 648.2L1383.4 635.1L1384.2 623.3L1384.9 612.9L1385.5 604.2L1386.5 597.2M1287.1 804.8L1302.1 794.9L1315.8 783.1L1328.1 769.8L1338.8 755.1L1347.9 739.4L1355.4 723L1361.5 706.3L1366.1 689.7L1369.5 673.4L1371.8 658L1373.3 643.7L1374.3 630.7L1375 619.5L1375.7 610L1376.7 602.6L1378.3 597.2M1277.3 810.5L1293.2 799.8L1307.7 787.1L1320.5 772.7L1331.5 756.8L1340.7 739.8L1348.1 722.2L1353.9 704.4L1358.1 686.8L1361.1 669.9L1363 654.2L1364.2 639.9L1365 627.4L1365.7 617L1366.7 608.8L1368.4 603L1371 599.4M1267.5 816.2L1283.6 805.4L1298.2 792.5L1311.1 777.8L1322.1 761.6L1331.4 744.4L1338.8 726.6L1344.5 708.5L1348.6 690.8L1351.5 673.8L1353.3 658.1L1354.5 643.8L1355.2 631.5L1356 621.3L1357.1 613.4L1359 607.8L1361.8 604.7M1257.6 821.9L1273.7 811.1L1288.3 798.2L1301.2 783.5L1312.3 767.3L1321.5 750.1L1328.9 732.2L1334.6 714.2L1338.8 696.5L1341.7 679.5L1343.5 663.7L1344.6 649.5L1345.4 637.2L1346.2 627L1347.3 619L1349.1 613.5L1352 610.4M1263.4 817.1L1277.2 805.1L1289.5 791.5L1300.3 776.5L1309.3 760.6L1316.8 743.9L1322.7 727L1327.2 710.2L1330.5 693.8L1332.7 678.3L1334.1 664L1335 651.2L1335.7 640.2L1336.5 631L1337.6 623.9L1339.4 618.9L1342.1 616M1267.8 810.4L1279.3 797.6L1289.4 783.7L1298.1 768.9L1305.4 753.4L1311.3 737.6L1316 721.8L1319.4 706.3L1321.9 691.4L1323.6 677.4L1324.7 664.6L1325.4 653.1L1326.1 643.3L1326.8 635.2L1328 628.9L1329.7 624.4L1332.3 621.7M1270.6 801.9L1279.9 788.9L1288 775.1L1294.9 760.7L1300.6 746L1305.1 731.3L1308.6 716.7L1311.2 702.6L1313.1 689.2L1314.3 676.7L1315.2 665.3L1315.8 655.2L1316.4 646.6L1317.2 639.4L1318.3 633.8L1320 629.8L1322.5 627.4M1271.7 792.1L1279 779.2L1285.3 765.8L1290.5 752.2L1294.8 738.6L1298.2 725.1L1300.8 711.9L1302.7 699.3L1304 687.4L1305 676.4L1305.6 666.4L1306.2 657.5L1306.8 650L1307.6 643.7L1308.7 638.8L1310.3 635.3L1312.6 633.1M1271 781.2L1276.6 768.8L1281.3 756.3L1285.1 743.7L1288.2 731.3L1290.7 719.1L1292.5 707.4L1293.9 696.3L1294.8 685.9L1295.5 676.3L1296.1 667.7L1296.6 660L1297.2 653.5L1298 648.1L1299.1 643.8L1300.7 640.7L1302.8 638.8M1268.7 769.6L1272.7 758.1L1276 746.7L1278.8 735.4L1280.9 724.3L1282.6 713.6L1283.9 703.4L1284.8 693.8L1285.5 684.8L1286 676.6L1286.5 669.2L1287 662.7L1287.6 657.2L1288.4 652.5L1289.5 648.9L1291 646.2L1292.9 644.5M1264.7 757.8L1267.4 747.5L1269.7 737.3L1271.5 727.4L1273 717.8L1274.1 708.6L1274.9 699.9L1275.6 691.7L1276.1 684.2L1276.5 677.3L1276.9 671.1L1277.4 665.6L1278 661L1278.8 657.1L1279.9 654L1281.3 651.7L1283.1 650.1M1259.2 746.2L1261 737.2L1262.4 728.5L1263.6 720.1L1264.5 712L1265.2 704.3L1265.8 697L1266.2 690.2L1266.6 684L1266.9 678.3L1267.4 673.2L1267.8 668.8L1268.5 664.9L1269.3 661.7L1270.3 659.1L1271.6 657.2L1273.3 655.8M1252.4 735.2L1253.5 727.7L1254.4 720.5L1255.1 713.5L1255.6 706.9L1256.1 700.6L1256.4 694.8L1256.8 689.3L1257.1 684.3L1257.4 679.8L1257.8 675.7L1258.4 672.1L1259 669L1259.8 666.4L1260.8 664.3L1262 662.6L1263.4 661.5M1244.6 725.2L1245.2 719.2L1245.7 713.4L1246.1 708L1246.4 702.8L1246.7 697.9L1247 693.3L1247.3 689.1L1247.6 685.2L1248 681.6L1248.4 678.5L1248.9 675.7L1249.6 673.2L1250.3 671.2L1251.2 669.5L1252.3 668.1L1253.6 667.2M1236.1 716.6L1236.4 712L1236.7 707.7L1236.9 703.6L1237.1 699.7L1237.4 696L1237.6 692.6L1237.9 689.5L1238.2 686.6L1238.6 683.9L1239 681.5L1239.6 679.4L1240.2 677.6L1240.9 676L1241.7 674.7L1242.6 673.7L1243.7 672.9M1227 709.6L1227.2 706.4L1227.4 703.3L1227.6 700.4L1227.8 697.7L1228.1 695.1L1228.3 692.7L1228.6 690.5L1228.9 688.5L1229.3 686.6L1229.8 684.9L1230.3 683.4L1230.8 682.1L1231.5 681L1232.2 680L1233 679.2L1233.9 678.5M1217.9 704.6L1218.1 702.5L1218.3 700.5L1218.5 698.7L1218.7 696.9L1218.9 695.3L1219.2 693.7L1219.5 692.3L1219.8 691L1220.2 689.8L1220.6 688.7L1221.1 687.7L1221.6 686.8L1222.1 686L1222.7 685.3L1223.3 684.7L1224.1 684.2M1209 701.7L1209.2 700.5L1209.3 699.4L1209.6 698.4L1209.8 697.4L1210 696.5L1210.3 695.6L1210.6 694.8L1210.9 694L1211.2 693.3L1211.6 692.7L1211.9 692.1L1212.3 691.5L1212.8 691.1L1213.2 690.6L1213.7 690.2L1214.2 689.9M1200.6 701L1200.7 700.5L1200.9 700L1201.1 699.6L1201.3 699.2L1201.5 698.7L1201.7 698.4L1201.9 698L1202.2 697.7L1202.4 697.3L1202.7 697L1202.9 696.7L1203.2 696.5L1203.5 696.2L1203.8 696L1204.1 695.8L1204.4 695.6M1193 702.5L1193.1 702.4L1193.2 702.3L1193.3 702.2L1193.4 702.1L1193.4 702.1L1193.5 702L1193.6 701.9L1193.7 701.8L1193.8 701.7L1193.9 701.7L1194 701.6L1194.1 701.5L1194.2 701.5L1194.3 701.4L1194.4 701.3L1194.5 701.3" fill="none" stroke="#111" stroke-width="1.15" />
<path d="M1431 721.8L1431.7 721.4L1432.4 721L1433.1 720.6L1433.8 720.2L1434.4 719.7L1435.1 719.3L1435.8 718.9L1436.5 718.4L1437.2 718L1437.9 717.6L1438.5 717.1L1439.2 716.7L1439.9 716.2L1440.6 715.7L1441.2 715.3L1441.9 714.8M1421.1 727.5L1422.8 726.5L1424.5 725.5L1426.2 724.4L1427.9 723.3L1429.6 722.2L1431.2 721.1L1432.8 720L1434.4 718.8L1436 717.6L1437.6 716.4L1439.2 715.2L1440.7 713.9L1442.3 712.6L1443.8 711.3L1445.3 710L1446.7 708.7M1411.3 733.2L1414 731.6L1416.7 729.9L1419.3 728.2L1422 726.4L1424.5 724.5L1427.1 722.6L1429.6 720.7L1432 718.6L1434.4 716.6L1436.8 714.5L1439.1 712.3L1441.4 710.1L1443.6 707.8L1445.8 705.5L1447.9 703.1L1450 700.7M1401.4 738.8L1405.2 736.6L1408.8 734.3L1412.4 731.8L1415.9 729.3L1419.4 726.6L1422.7 723.8L1426 721L1429.2 718L1432.3 715L1435.4 711.8L1438.3 708.6L1441.2 705.3L1443.9 701.9L1446.6 698.4L1449.2 694.9L1451.7 691.3M1391.6 744.5L1396.3 741.7L1400.9 738.6L1405.4 735.4L1409.8 732.1L1414.1 728.5L1418.2 724.8L1422.2 721L1426 717L1429.7 712.8L1433.3 708.6L1436.7 704.2L1440 699.7L1443.1 695L1446.1 690.3L1448.9 685.5L1451.5 680.7M1381.8 750.2L1387.5 746.7L1393 743L1398.4 739L1403.6 734.7L1408.6 730.3L1413.4 725.5L1418 720.6L1422.4 715.5L1426.6 710.2L1430.5 704.7L1434.3 699.1L1437.8 693.3L1441.1 687.4L1444.2 681.5L1447.1 675.4L1449.7 669.2M1371.9 755.9L1378.6 751.8L1385.1 747.3L1391.3 742.5L1397.3 737.3L1403 731.8L1408.4 726L1413.6 720L1418.4 713.7L1422.9 707.2L1427.1 700.4L1431.1 693.5L1434.7 686.5L1438 679.3L1441 672.1L1443.8 664.8L1446.2 657.5M1362.1 761.6L1369.8 756.8L1377.2 751.6L1384.2 745.9L1390.9 739.7L1397.2 733.2L1403.2 726.3L1408.8 719.1L1413.9 711.5L1418.7 703.7L1423 695.7L1427 687.6L1430.6 679.3L1433.8 670.9L1436.6 662.5L1439 654.1L1441.2 645.8M1352.2 767.3L1360.9 761.8L1369.2 755.8L1377 749.2L1384.4 742.1L1391.3 734.4L1397.7 726.4L1403.6 717.9L1409 709.1L1413.9 700L1418.3 690.8L1422.2 681.3L1425.5 671.9L1428.5 662.4L1431 652.9L1433.1 643.6L1434.8 634.5M1342.4 772.9L1352 766.9L1361.2 760L1369.8 752.5L1377.8 744.3L1385.2 735.5L1392 726.2L1398.2 716.5L1403.7 706.4L1408.6 696.1L1412.9 685.6L1416.5 675L1419.6 664.4L1422.2 654L1424.3 643.7L1426 633.8L1427.3 624.2M1332.5 778.6L1343.2 771.9L1353.2 764.2L1362.5 755.7L1371.1 746.4L1379 736.5L1386.1 725.9L1392.4 715L1397.9 703.6L1402.7 692L1406.8 680.4L1410.2 668.7L1412.9 657.2L1415.1 646L1416.8 635.1L1418 624.8L1418.9 615.1M1322.7 784.3L1334.3 776.9L1345.1 768.3L1355.1 758.8L1364.3 748.5L1372.5 737.3L1379.9 725.5L1386.3 713.2L1391.8 700.6L1396.4 687.9L1400.1 675.1L1403.1 662.5L1405.5 650.3L1407.2 638.5L1408.5 627.4L1409.4 617L1410 607.6M1312.9 790L1325.4 781.9L1337.1 772.5L1347.7 761.9L1357.4 750.4L1366 738L1373.4 724.9L1379.8 711.4L1385.2 697.6L1389.5 683.7L1392.9 670L1395.5 656.7L1397.4 643.9L1398.8 631.9L1399.7 620.8L1400.3 610.7L1400.9 601.9M1303 795.7L1316.5 786.8L1329 776.6L1340.3 765L1350.4 752.3L1359.2 738.6L1366.7 724.3L1373.1 709.5L1378.2 694.5L1382.2 679.7L1385.2 665.1L1387.4 651.2L1388.9 638.2L1389.8 626.2L1390.5 615.5L1391.1 606.1L1391.8 598.3M1293.2 801.3L1307.6 791.8L1320.8 780.6L1332.7 768L1343.2 754L1352.3 739.1L1359.8 723.5L1366 707.5L1370.8 691.5L1374.4 675.7L1377 660.6L1378.8 646.4L1379.9 633.3L1380.7 621.6L1381.3 611.6L1382.1 603.4L1383.2 596.9M1283.3 807L1298.7 796.8L1312.7 784.7L1325.2 770.9L1336 755.7L1345.2 739.5L1352.7 722.7L1358.6 705.6L1363.1 688.5L1366.3 672.1L1368.4 656.5L1369.8 642.1L1370.7 629.3L1371.4 618.4L1372.2 609.4L1373.4 602.5L1375.4 597.8M1273.5 812.7L1289.6 801.9L1304.2 789L1317.1 774.3L1328.2 758.1L1337.4 740.9L1344.8 723.1L1350.5 705L1354.7 687.3L1357.6 670.3L1359.4 654.6L1360.5 640.3L1361.3 628L1362.1 617.8L1363.2 609.9L1365 604.3L1367.9 601.2M1263.7 818.4L1279.8 807.6L1294.4 794.7L1307.3 780L1318.3 763.8L1327.6 746.6L1335 728.7L1340.7 710.7L1344.9 693L1347.7 676L1349.5 660.2L1350.7 646L1351.4 633.7L1352.2 623.5L1353.3 615.6L1355.2 610L1358 606.9M1260 820.3L1275.2 809L1288.9 795.7L1301 780.9L1311.3 764.8L1319.8 747.7L1326.6 730.2L1331.8 712.6L1335.6 695.4L1338.2 679L1339.9 663.8L1340.9 650.2L1341.7 638.3L1342.4 628.5L1343.6 620.9L1345.4 615.6L1348.2 612.5M1265.3 814.7L1278.2 802.4L1289.7 788.6L1299.6 773.7L1307.9 757.8L1314.8 741.5L1320.2 725L1324.3 708.6L1327.2 692.9L1329.2 677.9L1330.5 664.2L1331.3 652L1332 641.4L1332.8 632.6L1333.9 625.8L1335.7 621L1338.4 618.2M1269.1 807.3L1279.7 794.4L1289.1 780.5L1297 765.8L1303.7 750.6L1309 735.2L1313.2 719.8L1316.3 704.8L1318.5 690.5L1320 677.1L1321 664.8L1321.7 653.9L1322.3 644.5L1323.1 636.8L1324.3 630.8L1326 626.5L1328.5 623.9M1271.2 798.3L1279.8 785.3L1287.1 771.6L1293.3 757.5L1298.5 743.1L1302.5 728.9L1305.7 714.8L1308 701.3L1309.6 688.5L1310.7 676.6L1311.5 665.7L1312.1 656.1L1312.7 647.9L1313.5 641L1314.6 635.7L1316.3 631.9L1318.7 629.6M1271.6 788L1278.2 775.3L1283.9 762.2L1288.6 749L1292.4 735.7L1295.4 722.7L1297.7 710.1L1299.3 698.1L1300.5 686.8L1301.3 676.3L1301.9 666.8L1302.5 658.5L1303.1 651.3L1303.9 645.4L1305 640.7L1306.6 637.4L1308.8 635.3M1270.3 776.8L1275.2 764.7L1279.4 752.6L1282.8 740.5L1285.5 728.6L1287.6 717L1289.2 705.8L1290.4 695.3L1291.3 685.4L1291.9 676.4L1292.4 668.2L1292.9 661.1L1293.5 654.9L1294.3 649.8L1295.4 645.8L1296.9 642.8L1299 641M1267.3 765.1L1270.8 754L1273.7 743L1276.1 732.2L1277.9 721.7L1279.4 711.6L1280.5 702L1281.3 692.9L1281.9 684.5L1282.4 676.8L1282.8 669.9L1283.3 663.8L1283.9 658.6L1284.7 654.3L1285.8 650.8L1287.3 648.3L1289.2 646.6M1262.7 753.3L1265.1 743.5L1267 733.8L1268.5 724.5L1269.8 715.5L1270.7 706.9L1271.4 698.7L1272 691.1L1272.4 684.1L1272.8 677.6L1273.2 671.9L1273.7 666.8L1274.3 662.5L1275.1 658.8L1276.2 655.9L1277.6 653.8L1279.3 652.3M1256.7 741.9L1258.2 733.5L1259.4 725.3L1260.4 717.4L1261.1 709.9L1261.7 702.8L1262.2 696.1L1262.6 689.8L1262.9 684.1L1263.3 678.8L1263.7 674.2L1264.2 670L1264.8 666.5L1265.6 663.5L1266.6 661.1L1267.9 659.3L1269.5 658M1249.5 731.2L1250.4 724.3L1251.1 717.6L1251.6 711.2L1252.1 705.2L1252.5 699.5L1252.8 694.1L1253.1 689.2L1253.4 684.6L1253.8 680.4L1254.2 676.7L1254.7 673.5L1255.4 670.6L1256.1 668.2L1257.1 666.3L1258.3 664.8L1259.6 663.7M1241.4 721.7L1241.9 716.3L1242.3 711.1L1242.6 706.1L1242.9 701.4L1243.1 697L1243.4 692.9L1243.7 689.1L1244 685.6L1244.4 682.5L1244.8 679.6L1245.3 677.1L1245.9 674.9L1246.7 673L1247.6 671.5L1248.6 670.3L1249.8 669.4M1232.6 713.7L1232.9 709.6L1233.1 705.8L1233.3 702.2L1233.6 698.8L1233.8 695.6L1234 692.6L1234.3 689.8L1234.6 687.2L1235 684.9L1235.5 682.8L1236 681L1236.6 679.3L1237.2 677.9L1238 676.7L1238.9 675.8L1239.9 675M1223.5 707.4L1223.7 704.7L1223.9 702.1L1224.1 699.6L1224.3 697.3L1224.5 695.1L1224.8 693L1225.1 691.1L1225.4 689.4L1225.8 687.8L1226.2 686.3L1226.7 685L1227.2 683.9L1227.9 682.9L1228.5 682L1229.3 681.3L1230.1 680.7M1214.4 703.2L1214.6 701.5L1214.8 699.9L1215 698.4L1215.2 697L1215.5 695.6L1215.7 694.4L1216 693.2L1216.4 692.1L1216.7 691.1L1217.1 690.2L1217.5 689.3L1218 688.6L1218.5 687.9L1219 687.3L1219.6 686.8L1220.3 686.4M1205.7 701.1L1205.8 700.3L1206 699.5L1206.2 698.7L1206.5 697.9L1206.7 697.2L1207 696.6L1207.2 695.9L1207.5 695.4L1207.8 694.8L1208.1 694.3L1208.5 693.9L1208.8 693.4L1209.2 693L1209.6 692.7L1210 692.4L1210.4 692.1M1197.5 701.3L1197.7 701L1197.8 700.7L1198 700.4L1198.2 700.2L1198.3 699.9L1198.5 699.7L1198.7 699.4L1198.9 699.2L1199.1 699L1199.3 698.8L1199.5 698.6L1199.7 698.4L1199.9 698.2L1200.1 698.1L1200.4 697.9L1200.6 697.8M1190.4 703.7L1190.4 703.7L1190.4 703.7L1190.4 703.6L1190.5 703.6L1190.5 703.6L1190.5 703.6L1190.5 703.6L1190.5 703.6L1190.6 703.6L1190.6 703.5L1190.6 703.5L1190.6 703.5L1190.7 703.5L1190.7 703.5L1190.7 703.5L1190.7 703.5" fill="none" stroke="#444" stroke-width="0.6" />
<clipPath id="cl_nt"><path d="M1173.5 849.1L1177.2 853.2L1178.8 852L1176.6 846.8L1177.9 845.5L1181.9 848.9L1183.1 847.2L1180.2 842.1L1181.1 840.3L1185.2 842.9L1186 840.7L1182.6 836.1L1183.1 833.9L1187.2 835.6L1187.5 832.9L1183.7 828.9L1183.8 826.4L1187.7 827.1L1187.5 824.1L1183.5 820.8L1183.1 818.1L1186.6 817.7L1186 814.7L1181.9 812.2L1181.1 809.4L1184.2 808L1183.1 804.8L1179.1 803.4L1177.9 800.5L1180.3 798.2L1178.8 795.1L1175 794.6L1173.5 791.9L1175.3 788.6L1173.5 785.7L1170 786.3L1168.2 783.8L1169.2 779.8L1167.1 777.2L1164.2 778.8L1162.2 776.6L1162.4 772L1160.1 769.7L1157.8 772.3L1155.6 770.5L1155 765.5L1152.6 763.7L1151 767.1L1148.8 765.8L1147.4 760.5L1145 759.3L1144.1 763.5L1142 762.6L1139.9 757.3L1137.5 756.7L1137.4 761.4L1135.4 761.1L1132.6 756L1130.5 756L1131.2 761.1L1129.3 761.4L1126 756.6L1124.1 757.2L1125.6 762.5L1124 763.3L1120.3 759.2L1118.7 760.4L1121 765.6L1119.7 766.9L1115.7 763.5L1114.5 765.2L1117.4 770.3L1116.4 772.1L1112.4 769.5L1111.6 771.7L1115 776.3L1114.5 778.5L1110.4 776.8L1110.1 779.5L1113.9 783.5L1113.8 786L1109.9 785.3L1110.1 788.3L1114.1 791.6L1114.5 794.3L1110.9 794.7L1111.6 797.7L1115.7 800.2L1116.4 803L1113.4 804.4L1114.5 807.6L1118.5 809L1119.7 811.9L1117.2 814.2L1118.7 817.3L1122.5 817.8L1124 820.5L1122.3 823.8L1124.1 826.7L1127.5 826.1L1129.3 828.6L1128.3 832.6L1130.5 835.2L1133.4 833.6L1135.4 835.8L1135.2 840.4L1137.5 842.7L1139.8 840.1L1142 841.9L1142.5 846.9L1145 848.7L1146.6 845.3L1148.8 846.6L1150.2 851.9L1152.6 853.1L1153.4 848.9L1155.6 849.8L1157.7 855.1L1160.1 855.7L1160.1 851L1162.2 851.3L1164.9 856.4L1167.1 856.4L1166.4 851.3L1168.2 851L1171.5 855.8L1173.5 855.2L1171.9 849.9Z" fill="#000" stroke="none" stroke-width="0" /></clipPath>
<path d="M1173.5 849.1L1177.2 853.2L1178.8 852L1176.6 846.8L1177.9 845.5L1181.9 848.9L1183.1 847.2L1180.2 842.1L1181.1 840.3L1185.2 842.9L1186 840.7L1182.6 836.1L1183.1 833.9L1187.2 835.6L1187.5 832.9L1183.7 828.9L1183.8 826.4L1187.7 827.1L1187.5 824.1L1183.5 820.8L1183.1 818.1L1186.6 817.7L1186 814.7L1181.9 812.2L1181.1 809.4L1184.2 808L1183.1 804.8L1179.1 803.4L1177.9 800.5L1180.3 798.2L1178.8 795.1L1175 794.6L1173.5 791.9L1175.3 788.6L1173.5 785.7L1170 786.3L1168.2 783.8L1169.2 779.8L1167.1 777.2L1164.2 778.8L1162.2 776.6L1162.4 772L1160.1 769.7L1157.8 772.3L1155.6 770.5L1155 765.5L1152.6 763.7L1151 767.1L1148.8 765.8L1147.4 760.5L1145 759.3L1144.1 763.5L1142 762.6L1139.9 757.3L1137.5 756.7L1137.4 761.4L1135.4 761.1L1132.6 756L1130.5 756L1131.2 761.1L1129.3 761.4L1126 756.6L1124.1 757.2L1125.6 762.5L1124 763.3L1120.3 759.2L1118.7 760.4L1121 765.6L1119.7 766.9L1115.7 763.5L1114.5 765.2L1117.4 770.3L1116.4 772.1L1112.4 769.5L1111.6 771.7L1115 776.3L1114.5 778.5L1110.4 776.8L1110.1 779.5L1113.9 783.5L1113.8 786L1109.9 785.3L1110.1 788.3L1114.1 791.6L1114.5 794.3L1110.9 794.7L1111.6 797.7L1115.7 800.2L1116.4 803L1113.4 804.4L1114.5 807.6L1118.5 809L1119.7 811.9L1117.2 814.2L1118.7 817.3L1122.5 817.8L1124 820.5L1122.3 823.8L1124.1 826.7L1127.5 826.1L1129.3 828.6L1128.3 832.6L1130.5 835.2L1133.4 833.6L1135.4 835.8L1135.2 840.4L1137.5 842.7L1139.8 840.1L1142 841.9L1142.5 846.9L1145 848.7L1146.6 845.3L1148.8 846.6L1150.2 851.9L1152.6 853.1L1153.4 848.9L1155.6 849.8L1157.7 855.1L1160.1 855.7L1160.1 851L1162.2 851.3L1164.9 856.4L1167.1 856.4L1166.4 851.3L1168.2 851L1171.5 855.8L1173.5 855.2L1171.9 849.9Z" fill="#ffffcc" stroke="#111" stroke-width="1.0" />
<g clip-path="url(#cl_nt)"><path d="M1118.4 768.6L1170.4 738.6M1115.6 774.2L1167.6 744.2M1114.1 781.1L1166 751.1M1113.9 788.9L1165.8 758.9M1115 797.3L1167 767.3M1117.5 806.1L1169.4 776.1M1121.1 815L1173.1 785M1125.8 823.4L1177.8 793.4M1131.4 831.3L1183.4 801.3M1137.7 838.1L1189.6 808.1M1144.4 843.7L1196.3 813.7M1151.2 847.9L1203.2 817.9M1158 850.5L1210 820.5M1164.4 851.4L1216.4 821.4M1170.2 850.5L1222.2 820.5" fill="none" stroke="#222" stroke-width="0.9" /></g>
<path d="M1179.8 859.9A62 35.8 60 0 0 1179.8 788.3A62 35.8 60 0 0 1117.8 752.5A62 35.8 60 0 0 1117.8 824.1A62 35.8 60 0 0 1179.8 859.9Z" fill="none" stroke="#555" stroke-width="0.7" />
<path d="M1160.5 882.8L1166.4 879.4A72.2 41.7 60 0 0 1166.4 796A72.2 41.7 60 0 0 1094.2 754.3L1088.3 757.8A72.2 41.7 60 0 0 1088.3 841.1A72.2 41.7 60 0 0 1160.5 882.8Z" fill="none" stroke="#000" stroke-width="2.6" stroke-linejoin="round"/>
<path d="M1160.5 882.8L1166.4 879.4A72.2 41.7 60 0 0 1166.4 796A72.2 41.7 60 0 0 1094.2 754.3L1088.3 757.8A72.2 41.7 60 0 0 1088.3 841.1A72.2 41.7 60 0 0 1160.5 882.8ZM1160.5 875.9A66.5 38.4 60 0 0 1157.6 801.1A66.5 38.4 60 0 0 1094.2 761.2A66.5 38.4 60 0 0 1097.1 836A66.5 38.4 60 0 0 1160.5 875.9Z" fill="#f5a932" stroke="none" stroke-width="0" fill-rule="evenodd"/>
<path d="M1160.5 882.8L1166.4 879.4M1088.3 757.8L1094.2 754.3M1166.4 879.4A72.2 41.7 60 0 0 1166.4 796A72.2 41.7 60 0 0 1094.2 754.3" fill="none" stroke="#111" stroke-width="0.8" />
<path d="M1157.6 877.9A66.5 38.4 60 0 0 1157.6 801.1A66.5 38.4 60 0 0 1091.1 762.7A66.5 38.4 60 0 0 1091.1 839.5A66.5 38.4 60 0 0 1157.6 877.9ZM1160.5 875.9A66.5 38.4 60 0 0 1157.6 801.1A66.5 38.4 60 0 0 1094.2 761.2A66.5 38.4 60 0 0 1097.1 836A66.5 38.4 60 0 0 1160.5 875.9Z" fill="#f5a932" stroke="none" stroke-width="0" fill-rule="evenodd"/>
<path d="M1160.5 882.8A72.2 41.7 60 0 0 1160.5 799.5A72.2 41.7 60 0 0 1088.3 757.8A72.2 41.7 60 0 0 1088.3 841.1A72.2 41.7 60 0 0 1160.5 882.8ZM1157.6 877.9A66.5 38.4 60 0 0 1157.6 801.1A66.5 38.4 60 0 0 1091.1 762.7A66.5 38.4 60 0 0 1091.1 839.5A66.5 38.4 60 0 0 1157.6 877.9Z" fill="#f5a932" stroke="#111" stroke-width="0.8" fill-rule="evenodd"/>
<path d="M1157.6 877.9A66.5 38.4 60 0 0 1157.6 801.1A66.5 38.4 60 0 0 1091.1 762.7A66.5 38.4 60 0 0 1091.1 839.5A66.5 38.4 60 0 0 1157.6 877.9Z" fill="none" stroke="#111" stroke-width="1.0" />
<path d="M1094.2 761.2A66.5 38.4 60 0 0 1097.1 836A66.5 38.4 60 0 0 1160.5 875.9" fill="none" stroke="#111" stroke-width="1.0" />
<path d="M506.8 1217.4L600.8 1162.9A35.5 20.5 60 0 0 600.8 1121.9A35.5 20.5 60 0 0 565.3 1101.4L471.3 1155.9A35.5 20.5 60 0 0 471.3 1196.9A35.5 20.5 60 0 0 506.8 1217.4Z" fill="none" stroke="#000" stroke-width="2.8" stroke-linejoin="round"/>
<path d="M603.8 1168L634.8 1150.1A41.4 23.9 60 0 0 634.8 1102.3A41.4 23.9 60 0 0 593.4 1078.4L562.4 1096.3A41.4 23.9 60 0 0 562.4 1144.1A41.4 23.9 60 0 0 603.8 1168Z" fill="none" stroke="#000" stroke-width="2.8" stroke-linejoin="round"/>
<path d="M636.6 1153.2L669.4 1134.1A45 26 60 0 0 669.4 1082.2A45 26 60 0 0 624.4 1056.2L591.6 1075.2A45 26 60 0 0 591.6 1127.2A45 26 60 0 0 636.6 1153.2Z" fill="none" stroke="#000" stroke-width="2.8" stroke-linejoin="round"/>
<path d="M671.9 1138.5L896.9 1008.1A50 28.9 60 0 0 896.9 950.3A50 28.9 60 0 0 846.9 921.5L621.9 1051.9A50 28.9 60 0 0 621.9 1109.6A50 28.9 60 0 0 671.9 1138.5Z" fill="none" stroke="#000" stroke-width="2.8" stroke-linejoin="round"/>
<path d="M883.9 985.5L1091.5 865.2A24 13.9 60 0 0 1091.5 837.5A24 13.9 60 0 0 1067.5 823.6L859.9 944A24 13.9 60 0 0 859.9 971.7A24 13.9 60 0 0 883.9 985.5Z" fill="none" stroke="#000" stroke-width="2.8" stroke-linejoin="round"/>
<path d="M883.9 985.5L1091.5 865.2A24 13.9 60 0 0 1091.5 837.5A24 13.9 60 0 0 1067.5 823.6L859.9 944A24 13.9 60 0 0 859.9 971.7A24 13.9 60 0 0 883.9 985.5Z" fill="#e3e3e3" stroke="none" stroke-width="0" />
<path d="M883.9 985.5L1091.5 865.2M859.9 944L1067.5 823.6M1091.5 865.2A24 13.9 60 0 0 1091.5 837.5A24 13.9 60 0 0 1067.5 823.6" fill="none" stroke="#111" stroke-width="1.0" />
<ellipse cx="871.9" cy="964.8" rx="24" ry="13.9" transform="rotate(60 871.9 964.8)" fill="#e3e3e3" stroke="#111" stroke-width="1.0" />
<path d="M671.9 1138.5L896.9 1008.1A50 28.9 60 0 0 896.9 950.3A50 28.9 60 0 0 846.9 921.5L621.9 1051.9A50 28.9 60 0 0 621.9 1109.6A50 28.9 60 0 0 671.9 1138.5Z" fill="#e3e3e3" stroke="none" stroke-width="0" />
<path d="M671.9 1138.5L896.9 1008.1M621.9 1051.9L846.9 921.5M896.9 1008.1A50 28.9 60 0 0 896.9 950.3A50 28.9 60 0 0 846.9 921.5" fill="none" stroke="#111" stroke-width="1.0" />
<ellipse cx="646.9" cy="1095.2" rx="50" ry="28.9" transform="rotate(60 646.9 1095.2)" fill="#e3e3e3" stroke="#111" stroke-width="1.0" />
<path d="M636.6 1153.2L669.4 1134.1A45 26 60 0 0 669.4 1082.2A45 26 60 0 0 624.4 1056.2L591.6 1075.2A45 26 60 0 0 591.6 1127.2A45 26 60 0 0 636.6 1153.2Z" fill="#e3e3e3" stroke="none" stroke-width="0" />
<path d="M636.6 1153.2L669.4 1134.1M591.6 1075.2L624.4 1056.2M669.4 1134.1A45 26 60 0 0 669.4 1082.2A45 26 60 0 0 624.4 1056.2" fill="none" stroke="#111" stroke-width="1.0" />
<ellipse cx="614.1" cy="1114.2" rx="45" ry="26" transform="rotate(60 614.1 1114.2)" fill="#e3e3e3" stroke="#111" stroke-width="1.0" />
<path d="M603.8 1168L634.8 1150.1A41.4 23.9 60 0 0 634.8 1102.3A41.4 23.9 60 0 0 593.4 1078.4L562.4 1096.3A41.4 23.9 60 0 0 562.4 1144.1A41.4 23.9 60 0 0 603.8 1168Z" fill="#e3e3e3" stroke="none" stroke-width="0" />
<path d="M603.8 1168L634.8 1150.1M562.4 1096.3L593.4 1078.4M634.8 1150.1A41.4 23.9 60 0 0 634.8 1102.3A41.4 23.9 60 0 0 593.4 1078.4" fill="none" stroke="#111" stroke-width="1.0" />
<ellipse cx="583.1" cy="1132.2" rx="41.4" ry="23.9" transform="rotate(60 583.1 1132.2)" fill="#e3e3e3" stroke="#111" stroke-width="1.0" />
<path d="M506.8 1217.4L600.8 1162.9A35.5 20.5 60 0 0 600.8 1121.9A35.5 20.5 60 0 0 565.3 1101.4L471.3 1155.9A35.5 20.5 60 0 0 471.3 1196.9A35.5 20.5 60 0 0 506.8 1217.4Z" fill="#e3e3e3" stroke="none" stroke-width="0" />
<path d="M506.8 1217.4L600.8 1162.9M471.3 1155.9L565.3 1101.4M600.8 1162.9A35.5 20.5 60 0 0 600.8 1121.9A35.5 20.5 60 0 0 565.3 1101.4" fill="none" stroke="#111" stroke-width="1.0" />
<ellipse cx="489" cy="1186.7" rx="35.5" ry="20.5" transform="rotate(60 489 1186.7)" fill="#e6e6e6" stroke="#111" stroke-width="1.0" />
<path d="M509.1 1215.7L602.1 1161.8M512 1211.7L605 1157.8M513.7 1206.4L606.7 1152.5M514.1 1200.2L607.1 1146.2M513.3 1193.2L606.3 1139.3M511.2 1185.9L604.2 1132M508 1178.6L601 1124.7M503.8 1171.8L596.8 1117.8M498.8 1165.7L591.9 1111.8M493.4 1160.7L586.4 1106.7M487.7 1157L580.7 1103.1M482.1 1154.8L575.1 1100.9M476.9 1154.3L569.9 1100.4M472.2 1155.4L565.2 1101.5" fill="none" stroke="#111" stroke-width="1.25" />
<path d="M510.1 1214.6L603.1 1160.7M512.6 1210.2L605.6 1156.3M514 1204.6L607 1150.7M514 1198.1L607 1144.2M512.8 1190.9L605.8 1137M510.3 1183.6L603.3 1129.7M506.8 1176.4L599.8 1122.5M502.3 1169.8L595.3 1115.9M497.2 1164L590.2 1110.1M491.7 1159.4L584.7 1105.5M486 1156.1L579 1102.2M480.5 1154.5L573.5 1100.6M475.4 1154.5L568.4 1100.6" fill="none" stroke="#999" stroke-width="0.8" />
<path d="M510.8 1213.7L603.8 1159.8M513 1209L606 1155.1M514.1 1203.2L607.1 1149.3M513.8 1196.5L606.8 1142.6M512.3 1189.3L605.3 1135.3M509.6 1181.9L602.6 1128M505.8 1174.8L598.8 1120.9M501.2 1168.4L594.2 1114.4M496 1162.8L589 1108.9M490.4 1158.5L583.4 1104.6M484.7 1155.6L577.7 1101.7M479.2 1154.3L572.2 1100.4M474.3 1154.7L567.3 1100.8" fill="none" stroke="#fff" stroke-width="1.2" />
<path d="M505 1214.4L508.4 1218.2L509.8 1217.1L507.6 1212.3L508.6 1211.1L512.3 1214L513.2 1212.2L510.3 1207.8L510.9 1206.1L514.6 1207.9L515 1205.6L511.6 1201.9L511.7 1199.7L515.2 1200.3L515 1197.7L511.3 1194.9L510.9 1192.5L514 1191.9L513.2 1189.1L509.5 1187.4L508.6 1184.9L511.1 1183.1L509.8 1180.3L506.3 1179.8L505 1177.4L506.6 1174.5L505 1171.9L502 1172.7L500.4 1170.6L501 1166.8L499.1 1164.6L496.7 1166.5L494.9 1164.8L494.6 1160.4L492.5 1158.7L490.9 1161.7L489 1160.6L487.8 1155.8L485.6 1154.8L485 1158.7L483.2 1158.1L481.1 1153.3L479 1153L479.4 1157.5L477.7 1157.5L474.9 1153.1L473.1 1153.5L474.4 1158.3L473 1159L469.7 1155.2L468.3 1156.3L470.5 1161L469.4 1162.3L465.8 1159.4L464.9 1161.2L467.7 1165.5L467.2 1167.3L463.5 1165.5L463.1 1167.8L466.5 1171.5L466.4 1173.6L462.9 1173L463.1 1175.7L466.8 1178.5L467.2 1180.8L464.1 1181.5L464.9 1184.3L468.6 1186L469.4 1188.4L467 1190.3L468.3 1193.1L471.8 1193.6L473 1195.9L471.4 1198.9L473.1 1201.5L476.1 1200.7L477.7 1202.8L477 1206.6L479 1208.8L481.4 1206.8L483.2 1208.5L483.5 1213L485.6 1214.7L487.1 1211.6L489 1212.8L490.3 1217.6L492.5 1218.6L493 1214.7L494.9 1215.3L497 1220.1L499.1 1220.4L498.7 1215.9L500.4 1215.8L503.2 1220.3L505 1219.8L503.6 1215.1Z" fill="#e6e6e6" stroke="#111" stroke-width="1.1" />
<ellipse cx="489" cy="1186.7" rx="30.5" ry="17.6" transform="rotate(60 489 1186.7)" fill="#e6e6e6" stroke="#777" stroke-width="0.7" />
<path d="M609.4 1164.7A41.4 23.9 60 0 0 618.2 1136.5A41.4 23.9 60 0 0 596.9 1099.5A41.4 23.9 60 0 0 568.1 1093.1" fill="none" stroke="#111" stroke-width="0.7" />
<path d="M641.4 1150.3A45 26 60 0 0 651 1119.6A45 26 60 0 0 627.8 1079.5A45 26 60 0 0 596.5 1072.5" fill="none" stroke="#111" stroke-width="1.3" />
<path d="M644.9 1148.3A45 26 60 0 0 654.4 1117.6A45 26 60 0 0 631.3 1077.5A45 26 60 0 0 599.9 1070.5" fill="none" stroke="#111" stroke-width="0.7" />
<path d="M648.3 1146.3A45 26 60 0 0 657.9 1115.6A45 26 60 0 0 634.7 1075.5A45 26 60 0 0 603.4 1068.5" fill="none" stroke="#111" stroke-width="1.3" />
<path d="M651.8 1144.3A45 26 60 0 0 661.4 1113.6A45 26 60 0 0 638.2 1073.5A45 26 60 0 0 606.8 1066.4" fill="none" stroke="#111" stroke-width="0.7" />
<path d="M657 1141.3A45 26 60 0 0 666.6 1110.6A45 26 60 0 0 643.4 1070.5A45 26 60 0 0 612 1063.4" fill="none" stroke="#111" stroke-width="1.4" />
<path d="M679.3 1132.2L680 1132L680.6 1131.8L681.3 1131.6L681.9 1131.3L682.6 1131.1L683.2 1130.9L683.9 1130.6L684.5 1130.4L685.2 1130.1L685.8 1129.8L686.4 1129.6L687.1 1129.3L687.7 1129L688.3 1128.7L688.9 1128.4L689.5 1128.1L690.1 1127.8L690.7 1127.5L691.3 1127.2L691.9 1126.8L692.5 1126.5L693.1 1126.2M682.8 1124.4L684.4 1124.2L685.9 1124L687.4 1123.7L688.9 1123.4L690.3 1123.1L691.8 1122.8L693.2 1122.5L694.6 1122.1L696 1121.8L697.4 1121.4L698.7 1121L700.1 1120.5L701.4 1120.1L702.7 1119.6L704 1119.1L705.3 1118.5L706.5 1118L707.8 1117.4L709 1116.8L710.2 1116.2L711.4 1115.6L712.6 1114.9M684 1114.6L686.6 1114.5L689.2 1114.3L691.8 1114.2L694.3 1114L696.7 1113.8L699.1 1113.5L701.5 1113.3L703.8 1112.9L706.1 1112.6L708.3 1112.2L710.5 1111.7L712.7 1111.2L714.8 1110.7L716.9 1110.1L718.9 1109.5L720.9 1108.8L722.8 1108L724.7 1107.3L726.6 1106.4L728.5 1105.5L730.3 1104.6L732.1 1103.6M682.8 1103.3L686.7 1103.4L690.6 1103.4L694.4 1103.4L698.1 1103.4L701.7 1103.3L705.2 1103.2L708.7 1103.1L712.1 1102.9L715.4 1102.6L718.6 1102.3L721.7 1101.9L724.8 1101.4L727.8 1100.9L730.7 1100.3L733.5 1099.6L736.3 1098.8L739 1098L741.6 1097L744.2 1096L746.7 1094.9L749.1 1093.6L751.5 1092.3M679.3 1091.4L684.7 1091.6L690 1091.7L695.2 1091.9L700.3 1092L705.2 1092.1L710.1 1092.1L714.8 1092.1L719.4 1092.1L723.8 1092L728.2 1091.8L732.4 1091.5L736.5 1091.1L740.4 1090.7L744.3 1090.1L748 1089.4L751.6 1088.6L755.1 1087.7L758.5 1086.7L761.8 1085.5L764.9 1084.1L768 1082.7L771 1081M673.7 1079.7L680.7 1079.8L687.6 1079.9L694.3 1080L700.9 1080.2L707.4 1080.4L713.6 1080.5L719.7 1080.7L725.7 1080.8L731.4 1080.9L737 1080.8L742.4 1080.7L747.6 1080.5L752.7 1080.2L757.5 1079.7L762.2 1079.1L766.7 1078.3L771.1 1077.4L775.2 1076.2L779.3 1074.9L783.1 1073.4L786.9 1071.7L790.5 1069.8M666.3 1069L675 1068.7L683.6 1068.5L691.9 1068.4L700.2 1068.5L708.2 1068.6L716 1068.8L723.6 1069L731 1069.2L738.2 1069.4L745.1 1069.5L751.8 1069.6L758.3 1069.5L764.5 1069.3L770.5 1069L776.2 1068.5L781.7 1067.8L786.9 1066.9L791.9 1065.7L796.7 1064.3L801.3 1062.7L805.7 1060.7L809.9 1058.5M657.8 1060L668.1 1058.9L678.3 1058.1L688.3 1057.6L698.2 1057.3L707.8 1057.2L717.3 1057.2L726.5 1057.3L735.5 1057.5L744.2 1057.7L752.6 1058L760.7 1058.2L768.5 1058.3L775.9 1058.3L783.1 1058.1L789.9 1057.7L796.5 1057.1L802.7 1056.3L808.6 1055.1L814.2 1053.7L819.5 1051.9L824.6 1049.7L829.4 1047.2M648.7 1053.3L660.4 1051.1L672.1 1049.4L683.7 1048L695.2 1047L706.5 1046.4L717.6 1046L728.5 1045.9L739.1 1045.9L749.4 1046.1L759.3 1046.3L768.9 1046.6L778.1 1046.8L787 1047L795.4 1047L803.4 1046.8L811.1 1046.3L818.3 1045.6L825.1 1044.5L831.6 1043L837.7 1041.1L843.4 1038.7L848.9 1035.9M639.5 1049.4L652.5 1045.7L665.5 1042.6L678.6 1040.1L691.6 1038.1L704.5 1036.6L717.2 1035.6L729.7 1034.9L742 1034.6L753.9 1034.6L765.4 1034.7L776.6 1035L787.3 1035.3L797.6 1035.6L807.4 1035.7L816.7 1035.7L825.5 1035.4L833.8 1034.7L841.6 1033.7L848.9 1032.2L855.8 1030.3L862.3 1027.7L868.3 1024.6M631 1048.6L644.9 1043L659 1038.2L673.2 1034.1L687.6 1030.8L701.9 1028.1L716.2 1026.2L730.3 1024.8L744.2 1023.9L757.8 1023.4L771 1023.3L783.8 1023.4L796.1 1023.7L807.9 1024L819.1 1024.3L829.7 1024.4L839.7 1024.3L849.2 1023.8L858 1022.9L866.2 1021.4L873.9 1019.4L881.1 1016.7L887.8 1013.3M623.7 1050.9L637.3 1043.5L651.4 1036.9L665.8 1031.2L680.4 1026.3L695.2 1022.2L710 1018.9L724.8 1016.3L739.6 1014.4L754.1 1013.1L768.4 1012.4L782.3 1012.1L795.8 1012L808.8 1012.3L821.3 1012.6L833.2 1012.9L844.5 1013.1L855.1 1013.1L865.1 1012.8L874.5 1012L883.2 1010.7L891.3 1008.8L898.9 1006.2M643.1 1039.6L655.6 1032.8L668.4 1026.7L681.4 1021.3L694.7 1016.6L708.1 1012.6L721.6 1009.2L735.2 1006.5L748.7 1004.4L762.1 1002.8L775.3 1001.7L788.3 1001.1L801 1000.8L813.3 1000.7L825.3 1000.9L836.8 1001.2L847.9 1001.5L858.4 1001.8L868.5 1001.9L877.9 1001.7L886.9 1001.3L895.3 1000.5L903.2 999.3M662.6 1028.3L673.8 1022.1L685.3 1016.5L697.1 1011.5L709 1007.1L721.1 1003.2L733.3 999.8L745.5 997L757.8 994.7L769.9 992.9L782 991.5L794 990.5L805.8 989.9L817.3 989.5L828.5 989.4L839.5 989.5L850.1 989.8L860.3 990L870.2 990.3L879.6 990.5L888.6 990.6L897.2 990.5L905.3 990.1M682.1 1017L692.1 1011.5L702.3 1006.4L712.8 1001.8L723.4 997.6L734.1 993.9L745 990.6L755.9 987.8L766.8 985.4L777.7 983.3L788.6 981.7L799.4 980.4L810.1 979.5L820.7 978.8L831.1 978.4L841.3 978.2L851.3 978.2L861 978.3L870.4 978.5L879.5 978.7L888.4 979L896.9 979.2L905 979.3M701.5 1005.7L710.3 1000.8L719.3 996.3L728.5 992.1L737.8 988.3L747.2 984.8L756.6 981.6L766.2 978.8L775.8 976.4L785.4 974.2L795.1 972.4L804.7 970.9L814.2 969.7L823.7 968.7L833.1 967.9L842.4 967.4L851.5 967.1L860.5 966.9L869.3 966.9L877.9 967L886.3 967.1L894.4 967.3L902.4 967.5M721 994.4L728.6 990.2L736.3 986.2L744.2 982.5L752.2 979L760.2 975.8L768.4 972.9L776.6 970.2L784.9 967.8L793.2 965.6L801.5 963.7L809.8 962L818.1 960.5L826.4 959.3L834.7 958.3L842.9 957.4L851 956.8L859 956.3L867 955.9L874.8 955.7L882.5 955.6L890.1 955.6L897.5 955.7M740.5 983.1L746.9 979.6L753.4 976.1L760 972.9L766.6 969.9L773.4 967L780.2 964.3L787.1 961.9L794 959.6L800.9 957.4L807.9 955.5L814.9 953.8L821.9 952.2L829 950.8L836 949.5L843 948.4L849.9 947.5L856.9 946.7L863.8 946L870.6 945.5L877.4 945L884.1 944.7L890.8 944.5M759.9 971.9L765.1 968.9L770.4 966.1L775.7 963.4L781.1 960.8L786.6 958.4L792.1 956.1L797.6 953.8L803.2 951.8L808.8 949.8L814.4 948L820.1 946.3L825.8 944.7L831.5 943.2L837.2 941.8L842.9 940.6L848.6 939.4L854.3 938.4L860 937.5L865.7 936.7L871.4 935.9L877 935.3L882.6 934.8M779.4 960.6L783.4 958.3L787.5 956.1L791.5 954L795.7 951.9L799.8 949.9L804 948L808.2 946.1L812.5 944.4L816.8 942.7L821 941.1L825.4 939.5L829.7 938L834.1 936.6L838.4 935.3L842.8 934L847.2 932.9L851.6 931.7L856 930.7L860.4 929.7L864.8 928.8L869.2 927.9L873.6 927.2M798.9 949.3L801.7 947.7L804.5 946.1L807.4 944.6L810.3 943.1L813.1 941.6L816.1 940.2L819 938.8L821.9 937.4L824.9 936.1L827.9 934.8L830.9 933.5L833.9 932.3L836.9 931.1L839.9 930L842.9 928.9L846 927.8L849 926.8L852.1 925.8L855.2 924.8L858.2 923.9L861.3 923L864.4 922.2M818.3 938L820 937.1L821.6 936.1L823.2 935.2L824.9 934.3L826.5 933.4L828.2 932.6L829.9 931.7L831.6 930.8L833.2 930L834.9 929.2L836.6 928.4L838.3 927.5L840 926.8L841.7 926L843.4 925.2L845.2 924.4L846.9 923.7L848.6 923L850.3 922.2L852.1 921.5L853.8 920.8L855.6 920.2M837.8 926.7L838.2 926.5L838.7 926.2L839.1 926L839.6 925.7L840 925.4L840.5 925.2L840.9 924.9L841.4 924.7L841.8 924.4L842.3 924.2L842.7 923.9L843.2 923.7L843.6 923.4L844.1 923.2L844.5 922.9L845 922.7L845.4 922.5L845.9 922.2L846.4 922L846.8 921.7L847.3 921.5L847.7 921.3" fill="none" stroke="#111" stroke-width="1.15" />
<path d="M675.9 1135.9L676.2 1135.8L676.4 1135.7L676.6 1135.5L676.8 1135.4L677.1 1135.3L677.3 1135.2L677.5 1135.1L677.7 1135L678 1134.9L678.2 1134.8L678.4 1134.6L678.6 1134.5L678.8 1134.4L679.1 1134.3L679.3 1134.2L679.5 1134.1L679.7 1133.9L679.9 1133.8L680.1 1133.7L680.4 1133.6L680.6 1133.4L680.8 1133.3M680.8 1129.7L681.8 1129.4L682.8 1129.2L683.7 1128.9L684.6 1128.6L685.6 1128.4L686.5 1128.1L687.4 1127.8L688.3 1127.5L689.2 1127.2L690.1 1126.8L691 1126.5L691.9 1126.1L692.8 1125.8L693.6 1125.4L694.5 1125L695.3 1124.6L696.2 1124.2L697 1123.8L697.8 1123.4L698.6 1122.9L699.5 1122.5L700.3 1122M683.5 1121L685.4 1120.8L687.3 1120.6L689.2 1120.4L691 1120.1L692.8 1119.9L694.6 1119.6L696.4 1119.2L698.1 1118.9L699.8 1118.5L701.5 1118.1L703.1 1117.6L704.8 1117.2L706.4 1116.7L707.9 1116.1L709.5 1115.6L711 1115L712.5 1114.4L714 1113.7L715.5 1113L716.9 1112.3L718.3 1111.5L719.7 1110.8M683.9 1110.6L686.9 1110.5L690 1110.5L692.9 1110.4L695.9 1110.2L698.7 1110.1L701.5 1109.9L704.3 1109.6L707 1109.3L709.6 1109L712.2 1108.6L714.7 1108.2L717.2 1107.7L719.6 1107.1L722 1106.5L724.3 1105.9L726.6 1105.1L728.8 1104.4L730.9 1103.5L733.1 1102.6L735.2 1101.6L737.2 1100.6L739.2 1099.5M681.8 1099L686.2 1099.1L690.6 1099.2L694.9 1099.2L699.1 1099.3L703.2 1099.3L707.2 1099.2L711.1 1099.1L714.9 1099L718.6 1098.8L722.2 1098.5L725.7 1098.1L729.1 1097.7L732.5 1097.2L735.7 1096.6L738.9 1095.9L741.9 1095.1L744.9 1094.2L747.8 1093.2L750.6 1092.1L753.4 1090.9L756.1 1089.6L758.7 1088.2M677.4 1087.1L683.4 1087.2L689.3 1087.4L695.1 1087.5L700.7 1087.7L706.2 1087.8L711.5 1087.9L716.7 1088L721.8 1088L726.7 1087.9L731.5 1087.8L736.1 1087.6L740.6 1087.3L745 1086.9L749.2 1086.3L753.2 1085.7L757.2 1084.9L761 1083.9L764.6 1082.9L768.2 1081.6L771.6 1080.2L774.9 1078.6L778.1 1076.9M671.1 1075.6L678.8 1075.6L686.3 1075.6L693.6 1075.7L700.8 1075.9L707.8 1076.1L714.6 1076.2L721.3 1076.4L727.7 1076.6L734 1076.7L740.1 1076.7L745.9 1076.7L751.6 1076.5L757.1 1076.2L762.3 1075.8L767.4 1075.2L772.2 1074.5L776.9 1073.5L781.4 1072.4L785.7 1071L789.8 1069.5L793.8 1067.7L797.6 1065.6M663.3 1065.5L672.6 1064.9L681.7 1064.5L690.7 1064.4L699.6 1064.3L708.2 1064.4L716.6 1064.5L724.8 1064.7L732.8 1064.9L740.5 1065.1L747.9 1065.3L755.1 1065.4L762.1 1065.4L768.7 1065.3L775.1 1065L781.3 1064.6L787.1 1063.9L792.7 1063L798.1 1061.9L803.1 1060.4L808 1058.7L812.6 1056.7L817.1 1054.3M654.5 1057.3L665.3 1055.8L676.1 1054.7L686.7 1053.9L697.2 1053.4L707.5 1053.1L717.5 1053L727.3 1053.1L736.9 1053.2L746.2 1053.5L755.1 1053.7L763.8 1053.9L772.1 1054.1L780 1054.1L787.7 1054L794.9 1053.7L801.8 1053.2L808.4 1052.4L814.7 1051.2L820.6 1049.8L826.2 1047.9L831.5 1045.7L836.5 1043M645.3 1051.6L657.5 1048.8L669.7 1046.6L681.9 1044.9L693.9 1043.6L705.8 1042.7L717.5 1042.1L729 1041.8L740.2 1041.7L751.1 1041.8L761.6 1042.1L771.8 1042.4L781.6 1042.6L790.9 1042.8L799.8 1042.9L808.3 1042.7L816.4 1042.3L824 1041.6L831.2 1040.5L837.9 1039L844.3 1037.1L850.3 1034.7L856 1031.8M636.3 1048.8L649.6 1044.4L663.1 1040.7L676.6 1037.6L690.1 1035.2L703.6 1033.3L716.9 1032L730 1031.1L742.8 1030.6L755.4 1030.4L767.5 1030.5L779.3 1030.7L790.6 1031.1L801.4 1031.3L811.7 1031.5L821.5 1031.6L830.7 1031.3L839.4 1030.7L847.6 1029.7L855.3 1028.3L862.5 1026.3L869.2 1023.7L875.5 1020.5M628.1 1049.1L642.3 1042.7L656.7 1037.1L671.3 1032.4L686.1 1028.5L701 1025.4L715.7 1023L730.4 1021.2L744.9 1020.1L759.1 1019.4L772.9 1019.2L786.3 1019.2L799.2 1019.5L811.5 1019.8L823.3 1020.1L834.4 1020.3L844.9 1020.2L854.8 1019.8L864 1018.9L872.6 1017.5L880.6 1015.4L888 1012.7L894.9 1009.2M630.8 1046.7L644 1039.6L657.6 1033.2L671.5 1027.5L685.6 1022.7L699.9 1018.6L714.3 1015.3L728.6 1012.7L742.9 1010.7L757.1 1009.3L770.9 1008.4L784.5 1008L797.7 1007.9L810.5 1008L822.8 1008.3L834.6 1008.6L845.9 1008.9L856.5 1009L866.5 1008.9L876 1008.4L884.8 1007.4L893 1006L900.7 1003.9M650.3 1035.4L662.3 1028.9L674.6 1023L687.2 1017.7L699.9 1013.1L712.9 1009.1L725.9 1005.8L739 1003L752 1000.8L765 999.1L777.8 997.9L790.4 997.2L802.8 996.7L814.9 996.6L826.6 996.7L837.9 996.9L848.8 997.2L859.3 997.5L869.3 997.7L878.8 997.7L887.8 997.5L896.3 997L904.3 996.1M669.7 1024.1L680.5 1018.2L691.6 1012.8L702.8 1007.9L714.3 1003.6L725.9 999.7L737.6 996.4L749.3 993.6L761.1 991.2L772.8 989.3L784.5 987.9L796 986.8L807.4 986L818.6 985.5L829.6 985.3L840.2 985.3L850.6 985.5L860.7 985.7L870.4 986L879.8 986.2L888.8 986.4L897.3 986.4L905.5 986.3M689.2 1012.9L698.8 1007.6L708.6 1002.7L718.5 998.2L728.6 994.2L738.9 990.5L749.2 987.3L759.6 984.5L770.1 982L780.6 979.9L791 978.2L801.4 976.9L811.7 975.8L821.8 975L831.9 974.5L841.8 974.2L851.4 974L860.9 974.1L870.1 974.2L879.1 974.4L887.8 974.6L896.2 974.9L904.3 975M708.7 1001.6L717 996.9L725.6 992.6L734.2 988.6L743 984.9L752 981.5L760.9 978.4L770 975.6L779.1 973.2L788.3 971L797.4 969.1L806.6 967.6L815.7 966.2L824.7 965.1L833.7 964.3L842.6 963.6L851.4 963.2L860 962.9L868.5 962.8L876.9 962.7L885.1 962.8L893 963L900.8 963.2M728.1 990.3L735.3 986.3L742.6 982.5L750 979L757.5 975.6L765.1 972.6L772.7 969.7L780.4 967.1L788.2 964.7L796 962.6L803.8 960.6L811.7 958.9L819.5 957.4L827.4 956.1L835.2 954.9L842.9 954L850.7 953.2L858.3 952.6L865.9 952.1L873.4 951.8L880.8 951.6L888 951.5L895.2 951.5M747.6 979L753.6 975.7L759.6 972.5L765.7 969.4L771.9 966.5L778.2 963.8L784.5 961.3L790.9 958.9L797.3 956.7L803.8 954.6L810.3 952.7L816.8 950.9L823.3 949.3L829.9 947.9L836.4 946.6L842.9 945.4L849.5 944.4L856 943.5L862.4 942.7L868.9 942L875.3 941.5L881.6 941.1L887.9 940.7M767.1 967.7L771.8 965L776.7 962.4L781.5 959.9L786.5 957.5L791.4 955.3L796.4 953.1L801.5 951L806.6 949L811.7 947.1L816.8 945.4L822 943.7L827.2 942.1L832.4 940.7L837.6 939.3L842.8 938L848.1 936.9L853.3 935.8L858.5 934.8L863.8 933.9L869 933.1L874.2 932.4L879.4 931.7M786.5 956.4L790.1 954.4L793.7 952.4L797.3 950.5L801 948.6L804.7 946.8L808.4 945.1L812.2 943.4L815.9 941.8L819.7 940.2L823.5 938.7L827.3 937.2L831.2 935.8L835.1 934.5L838.9 933.2L842.8 932L846.7 930.8L850.6 929.7L854.5 928.7L858.5 927.7L862.4 926.7L866.3 925.8L870.2 925M806 945.2L808.4 943.8L810.8 942.5L813.2 941.1L815.6 939.9L818.1 938.6L820.5 937.4L823 936.1L825.4 935L827.9 933.8L830.4 932.7L832.9 931.5L835.4 930.5L838 929.4L840.5 928.4L843.1 927.4L845.6 926.4L848.2 925.4L850.7 924.5L853.3 923.6L855.9 922.7L858.5 921.9L861.1 921.1M825.5 933.9L826.7 933.2L827.9 932.5L829.1 931.8L830.3 931.2L831.5 930.5L832.7 929.8L833.9 929.2L835.1 928.5L836.4 927.9L837.6 927.3L838.8 926.6L840 926L841.3 925.4L842.5 924.8L843.8 924.2L845 923.6L846.3 923L847.5 922.5L848.8 921.9L850 921.3L851.3 920.8L852.5 920.2M844.9 922.6L844.9 922.6L844.9 922.6L845 922.6L845 922.6L845 922.6L845 922.5L845 922.5L845 922.5L845 922.5L845.1 922.5L845.1 922.5L845.1 922.5L845.1 922.5L845.1 922.5L845.1 922.5L845.1 922.5L845.1 922.5L845.2 922.5L845.2 922.4L845.2 922.4L845.2 922.4L845.2 922.4" fill="none" stroke="#555" stroke-width="0.6" />
<path d="M1123.2 865.1L1127.5 862.6A38.2 22.1 60 0 0 1127.5 818.5A38.2 22.1 60 0 0 1089.3 796.4L1085 798.9A38.2 22.1 60 0 0 1085 843A38.2 22.1 60 0 0 1123.2 865.1Z" fill="none" stroke="#000" stroke-width="2.6" stroke-linejoin="round"/>
<path d="M1123.2 865.1L1127.5 862.6A38.2 22.1 60 0 0 1127.5 818.5A38.2 22.1 60 0 0 1089.3 796.4L1085 798.9A38.2 22.1 60 0 0 1085 843A38.2 22.1 60 0 0 1123.2 865.1ZM1119.3 853.4A26.5 15.3 60 0 0 1117.3 824.4A26.5 15.3 60 0 0 1093.2 808.1A26.5 15.3 60 0 0 1095.2 837.1A26.5 15.3 60 0 0 1119.3 853.4Z" fill="#7fc8a2" stroke="none" stroke-width="0" fill-rule="evenodd"/>
<path d="M1123.2 865.1L1127.5 862.6M1085 798.9L1089.3 796.4M1127.5 862.6A38.2 22.1 60 0 0 1127.5 818.5A38.2 22.1 60 0 0 1089.3 796.4" fill="none" stroke="#111" stroke-width="1.0" />
<path d="M1117.3 854.9A26.5 15.3 60 0 0 1117.3 824.4A26.5 15.3 60 0 0 1090.8 809.1A26.5 15.3 60 0 0 1090.8 839.6A26.5 15.3 60 0 0 1117.3 854.9ZM1119.3 853.4A26.5 15.3 60 0 0 1117.3 824.4A26.5 15.3 60 0 0 1093.2 808.1A26.5 15.3 60 0 0 1095.2 837.1A26.5 15.3 60 0 0 1119.3 853.4Z" fill="#7fc8a2" stroke="none" stroke-width="0" fill-rule="evenodd"/>
<path d="M1123.2 865.1A38.2 22.1 60 0 0 1123.2 821A38.2 22.1 60 0 0 1085 798.9A38.2 22.1 60 0 0 1085 843A38.2 22.1 60 0 0 1123.2 865.1ZM1117.3 854.9A26.5 15.3 60 0 0 1117.3 824.4A26.5 15.3 60 0 0 1090.8 809.1A26.5 15.3 60 0 0 1090.8 839.6A26.5 15.3 60 0 0 1117.3 854.9Z" fill="#7fc8a2" stroke="#111" stroke-width="1.0" fill-rule="evenodd"/>
<path d="M1117.3 854.9A26.5 15.3 60 0 0 1117.3 824.4A26.5 15.3 60 0 0 1090.8 809.1A26.5 15.3 60 0 0 1090.8 839.6A26.5 15.3 60 0 0 1117.3 854.9Z" fill="none" stroke="#111" stroke-width="1.6" />
<path d="M1093.2 808.1A26.5 15.3 60 0 0 1095.2 837.1A26.5 15.3 60 0 0 1119.3 853.4" fill="none" stroke="#111" stroke-width="1.6" />
<path d="M1120.8 861A33.5 19.3 60 0 0 1120.8 822.3A33.5 19.3 60 0 0 1087.3 803A33.5 19.3 60 0 0 1087.3 841.7A33.5 19.3 60 0 0 1120.8 861Z" fill="none" stroke="#222" stroke-width="0.8" />
<path d="M1093.7 838L1114.5 826" stroke="#fff" stroke-width="2.6" fill="none"/><path d="M1093.7 838L1114.5 826" stroke="#888" stroke-width="1.2" fill="none" stroke-dasharray="22 7"/>
<path d="M1132.7 815.5L1173.4 792" stroke="#fff" stroke-width="2.6" fill="none"/><path d="M1132.7 815.5L1173.4 792" stroke="#888" stroke-width="1.2" fill="none" stroke-dasharray="22 7"/>
<path d="M1429.9 641.3L1450.7 629.3" stroke="#888" stroke-width="1.2" fill="none" stroke-dasharray="22 7"/>
<path d="M1495.6 603.2L1519.9 589.1" stroke="#fff" stroke-width="2.6" fill="none"/><path d="M1495.6 603.2L1519.9 589.1" stroke="#888" stroke-width="1.2" fill="none" stroke-dasharray="22 7"/>
<path d="M1557.1 567.6L1603.8 540.5" stroke="#fff" stroke-width="2.6" fill="none"/><path d="M1557.1 567.6L1603.8 540.5" stroke="#888" stroke-width="1.2" fill="none" stroke-dasharray="22 7"/>
<path d="M1702.3 372.4L1704.9 370.9A15 8.7 60 0 0 1704.9 353.6A15 8.7 60 0 0 1689.9 344.9L1687.3 346.4A15 8.7 60 0 0 1687.3 363.7A15 8.7 60 0 0 1702.3 372.4Z" fill="none" stroke="#000" stroke-width="2.4" stroke-linejoin="round"/>
<path d="M1702.3 372.4L1704.9 370.9A15 8.7 60 0 0 1704.9 353.6A15 8.7 60 0 0 1689.9 344.9L1687.3 346.4A15 8.7 60 0 0 1687.3 363.7A15 8.7 60 0 0 1702.3 372.4ZM1700.1 365.7A8.5 4.9 60 0 0 1699 356.9A8.5 4.9 60 0 0 1692 351.6A8.5 4.9 60 0 0 1693.1 360.4A8.5 4.9 60 0 0 1700.1 365.7Z" fill="#dcdcdc" stroke="none" stroke-width="0" fill-rule="evenodd"/>
<path d="M1702.3 372.4L1704.9 370.9M1687.3 346.4L1689.9 344.9M1704.9 370.9A15 8.7 60 0 0 1704.9 353.6A15 8.7 60 0 0 1689.9 344.9" fill="none" stroke="#111" stroke-width="1.0" />
<path d="M1699 366.8A8.5 4.9 60 0 0 1699 356.9A8.5 4.9 60 0 0 1690.5 352A8.5 4.9 60 0 0 1690.5 361.9A8.5 4.9 60 0 0 1699 366.8ZM1700.1 365.7A8.5 4.9 60 0 0 1699 356.9A8.5 4.9 60 0 0 1692 351.6A8.5 4.9 60 0 0 1693.1 360.4A8.5 4.9 60 0 0 1700.1 365.7Z" fill="#cfcfcf" stroke="none" stroke-width="0" fill-rule="evenodd"/>
<path d="M1702.3 372.4A15 8.7 60 0 0 1702.3 355.1A15 8.7 60 0 0 1687.3 346.4A15 8.7 60 0 0 1687.3 363.7A15 8.7 60 0 0 1702.3 372.4ZM1699 366.8A8.5 4.9 60 0 0 1699 356.9A8.5 4.9 60 0 0 1690.5 352A8.5 4.9 60 0 0 1690.5 361.9A8.5 4.9 60 0 0 1699 366.8Z" fill="#e6e6e6" stroke="#111" stroke-width="1.0" fill-rule="evenodd"/>
<path d="M1699 366.8A8.5 4.9 60 0 0 1699 356.9A8.5 4.9 60 0 0 1690.5 352A8.5 4.9 60 0 0 1690.5 361.9A8.5 4.9 60 0 0 1699 366.8Z" fill="none" stroke="#111" stroke-width="1.0" />
<path d="M1692 351.6A8.5 4.9 60 0 0 1693.1 360.4A8.5 4.9 60 0 0 1700.1 365.7" fill="none" stroke="#111" stroke-width="1.0" />
<path d="M1727.8 348.7L1806.7 303.2A7.3 4.2 60 0 0 1806.7 294.8A7.3 4.2 60 0 0 1799.4 290.6L1720.5 336.1A7.3 4.2 60 0 0 1720.5 344.5A7.3 4.2 60 0 0 1727.8 348.7Z" fill="none" stroke="#000" stroke-width="2.6" stroke-linejoin="round"/>
<path d="M1806.7 309.2L1822.2 300.2A12.5 7.2 60 0 0 1822.2 285.8A12.5 7.2 60 0 0 1809.7 278.6L1794.2 287.6A12.5 7.2 60 0 0 1794.2 302A12.5 7.2 60 0 0 1806.7 309.2Z" fill="none" stroke="#000" stroke-width="2.6" stroke-linejoin="round"/>
<path d="M1806.7 309.2L1822.2 300.2A12.5 7.2 60 0 0 1822.2 285.8A12.5 7.2 60 0 0 1809.7 278.6L1794.2 287.6A12.5 7.2 60 0 0 1794.2 302A12.5 7.2 60 0 0 1806.7 309.2Z" fill="#dedede" stroke="none" stroke-width="0" />
<path d="M1806.7 309.2L1822.2 300.2M1794.2 287.6L1809.7 278.6M1822.2 300.2A12.5 7.2 60 0 0 1822.2 285.8A12.5 7.2 60 0 0 1809.7 278.6" fill="none" stroke="#111" stroke-width="0.8" />
<ellipse cx="1800.4" cy="298.4" rx="12.5" ry="7.2" transform="rotate(60 1800.4 298.4)" fill="#e0e0e0" stroke="#111" stroke-width="0.8" />
<path d="M1727.8 348.7L1806.7 303.2A7.3 4.2 60 0 0 1806.7 294.8A7.3 4.2 60 0 0 1799.4 290.6L1720.5 336.1A7.3 4.2 60 0 0 1720.5 344.5A7.3 4.2 60 0 0 1727.8 348.7Z" fill="#dedede" stroke="none" stroke-width="0" />
<path d="M1727.8 348.7L1806.7 303.2M1720.5 336.1L1799.4 290.6M1806.7 303.2A7.3 4.2 60 0 0 1806.7 294.8A7.3 4.2 60 0 0 1799.4 290.6" fill="none" stroke="#111" stroke-width="0.8" />
<ellipse cx="1724.2" cy="342.4" rx="7.3" ry="4.2" transform="rotate(60 1724.2 342.4)" fill="#e0e0e0" stroke="#111" stroke-width="0.8" />
<path d="M1732.7 345.9A7.3 4.2 60 0 0 1734.4 340.9A7.3 4.2 60 0 0 1730.6 334.3A7.3 4.2 60 0 0 1725.4 333.3M1737.9 342.9A7.3 4.2 60 0 0 1739.6 337.9A7.3 4.2 60 0 0 1735.8 331.3A7.3 4.2 60 0 0 1730.6 330.3M1743.1 339.9A7.3 4.2 60 0 0 1744.8 334.9A7.3 4.2 60 0 0 1741 328.3A7.3 4.2 60 0 0 1735.8 327.3M1748.3 336.9A7.3 4.2 60 0 0 1750 331.9A7.3 4.2 60 0 0 1746.2 325.3A7.3 4.2 60 0 0 1741 324.3M1753.5 333.9A7.3 4.2 60 0 0 1755.2 328.9A7.3 4.2 60 0 0 1751.4 322.3A7.3 4.2 60 0 0 1746.2 321.3M1758.7 330.9A7.3 4.2 60 0 0 1760.4 325.9A7.3 4.2 60 0 0 1756.6 319.3A7.3 4.2 60 0 0 1751.4 318.3" fill="none" stroke="#333" stroke-width="0.8" />
<path d="M438.8 563L456.3 608" stroke="#333" stroke-width="1.1" fill="none"/>
<circle cx="430" cy="540" r="24" fill="#fff" stroke="#f0141e" stroke-width="1.5"/><text x="429.5" y="550" font-size="28" text-anchor="middle">4</text>
<path d="M347 618.3L383 679.5" stroke="#333" stroke-width="1.1" fill="none"/>
<circle cx="335.3" cy="595.3" r="24" fill="#fff" stroke="#f0141e" stroke-width="1.5"/><text x="334.8" y="605.3" font-size="28" text-anchor="middle">8</text>
<path d="M228 684.5L262 752" stroke="#333" stroke-width="1.1" fill="none"/>
<circle cx="215.8" cy="661.8" r="24" fill="#fff" stroke="#f0141e" stroke-width="1.5"/><text x="215.3" y="671.8" font-size="28" text-anchor="middle">9</text>
<path d="M625 454.5L648.8 508.8" stroke="#333" stroke-width="1.1" fill="none"/>
<text x="614.5" y="445.5" font-size="28" text-anchor="middle">7</text>
<path d="M1000.3 617L1033.6 610.6" stroke="#333" stroke-width="1.1" fill="none"/>
<text x="989" y="628.2" font-size="28" text-anchor="middle">3</text>
<path d="M804.1 720.9L841.9 712.8" stroke="#333" stroke-width="1.1" fill="none"/>
<text x="792" y="732.6" font-size="28" text-anchor="middle">3</text>
<path d="M1746.7 261.6L1763.9 301.7" stroke="#333" stroke-width="1.1" fill="none"/>
<text x="1735" y="252.7" font-size="28" text-anchor="middle">1</text>
<path d="M1676 297.9L1692.6 339.2" stroke="#333" stroke-width="1.1" fill="none"/>
<text x="1661.5" y="294.7" font-size="28" text-anchor="middle">2</text>
<path d="M1586 671.5L1604.6 726" stroke="#333" stroke-width="1.1" fill="none"/>
<circle cx="1612.4" cy="748.6" r="24" fill="#fff" stroke="#f0141e" stroke-width="1.5"/><text x="1611.9" y="758.6" font-size="28" text-anchor="middle">4</text>
<path d="M1169.6 886L1209.5 950.5" stroke="#333" stroke-width="1.1" fill="none"/>
<circle cx="1223" cy="972.4" r="24" fill="#fff" stroke="#f0141e" stroke-width="1.5"/><text x="1222.5" y="982.4" font-size="28" text-anchor="middle">5</text>
<path d="M1130 860.5L1165.4 982" stroke="#333" stroke-width="1.1" fill="none"/>
<circle cx="1168.1" cy="1006.6" r="24" fill="#fff" stroke="#f0141e" stroke-width="1.5"/><text x="1167.6" y="1016.6" font-size="28" text-anchor="middle">6</text>
<rect x="1406.5" y="923.4" width="45" height="44.6" fill="#fff" stroke="#000" stroke-width="4.2"/>
<text x="1428.6" y="959.3" font-size="33.5" text-anchor="middle">A</text>
<rect x="1483.5" y="1116.2" width="310" height="65.4" fill="#fff" stroke="#333" stroke-width="1.6"/>
<text x="1505.5" y="1158.3" font-size="24.8" font-weight="bold">Note :</text>
<path d="M1506 1162.4L1562.5 1162.4" stroke="#000" stroke-width="2"/>
<circle cx="1624.3" cy="1149.3" r="24.3" fill="none" stroke="#f0141e" stroke-width="1.5"/>
<text x="1664" y="1158.8" font-size="24.5">= Seal Kit</text>
<text id="t1" x="109" y="90" font-size="26.3" stroke="#000" stroke-width="0.5">TURNING CYLIND. / VRIDCYLINDER</text>
<text id="t2" x="853" y="88.5" font-size="23.9" font-weight="bold">3222 3197 68</text>
<text id="t3" x="135.3" y="1204.5" font-size="29.4">1250 0166 70</text>
<text id="t4" x="78.8" y="1333.5" font-size="76.2">by AtlasCopco</text>
<text id="t5" x="962.8" y="1288.8" font-size="24">332</text>
</svg>
</body></html>
